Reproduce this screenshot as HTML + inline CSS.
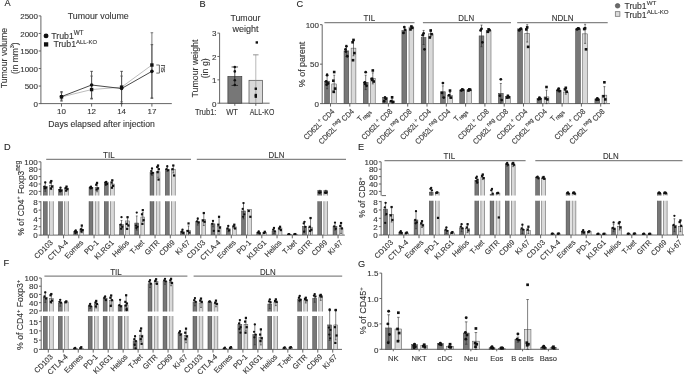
<!DOCTYPE html>
<html><head><meta charset="utf-8"><style>
html,body{margin:0;padding:0;background:#fff;width:685px;height:374px;overflow:hidden}
svg{display:block;will-change:transform}
text{font-family:"Liberation Sans", sans-serif;stroke:#3a3a3a;stroke-width:0.12px}
</style></head><body>
<svg width="685" height="374" viewBox="0 0 685 374">
<rect width="685" height="374" fill="#fff"/>
<text x="4.60" y="5.90" font-size="9.2" text-anchor="start" fill="#222">A</text>
<text x="199.60" y="6.60" font-size="9.2" text-anchor="start" fill="#222">B</text>
<text x="296.60" y="6.60" font-size="9.2" text-anchor="start" fill="#222">C</text>
<text x="3.90" y="149.50" font-size="9.2" text-anchor="start" fill="#222">D</text>
<text x="357.90" y="149.60" font-size="9.2" text-anchor="start" fill="#222">E</text>
<text x="3.60" y="266.40" font-size="9.2" text-anchor="start" fill="#222">F</text>
<text x="357.90" y="266.60" font-size="9.2" text-anchor="start" fill="#222">G</text>
<line x1="40.90" y1="15.90" x2="40.90" y2="104.05" stroke="#555" stroke-width="0.9"/>
<line x1="40.90" y1="103.60" x2="171.80" y2="103.60" stroke="#555" stroke-width="0.9"/>
<line x1="38.70" y1="103.60" x2="40.90" y2="103.60" stroke="#555" stroke-width="0.9"/>
<text x="38.00" y="106.90" font-size="8" text-anchor="end" fill="#333">0</text>
<line x1="38.70" y1="86.06" x2="40.90" y2="86.06" stroke="#555" stroke-width="0.9"/>
<text x="38.00" y="89.36" font-size="8" text-anchor="end" fill="#333">500</text>
<line x1="38.70" y1="68.52" x2="40.90" y2="68.52" stroke="#555" stroke-width="0.9"/>
<text x="38.00" y="71.82" font-size="8" text-anchor="end" fill="#333">1000</text>
<line x1="38.70" y1="50.98" x2="40.90" y2="50.98" stroke="#555" stroke-width="0.9"/>
<text x="38.00" y="54.28" font-size="8" text-anchor="end" fill="#333">1500</text>
<line x1="38.70" y1="33.44" x2="40.90" y2="33.44" stroke="#555" stroke-width="0.9"/>
<text x="38.00" y="36.74" font-size="8" text-anchor="end" fill="#333">2000</text>
<line x1="38.70" y1="15.90" x2="40.90" y2="15.90" stroke="#555" stroke-width="0.9"/>
<text x="38.00" y="19.20" font-size="8" text-anchor="end" fill="#333">2500</text>
<line x1="61.50" y1="103.60" x2="61.50" y2="106.60" stroke="#555" stroke-width="0.9"/>
<text x="61.50" y="114.10" font-size="8" text-anchor="middle" fill="#333">10</text>
<line x1="91.60" y1="103.60" x2="91.60" y2="106.60" stroke="#555" stroke-width="0.9"/>
<text x="91.60" y="114.10" font-size="8" text-anchor="middle" fill="#333">12</text>
<line x1="121.60" y1="103.60" x2="121.60" y2="106.60" stroke="#555" stroke-width="0.9"/>
<text x="121.60" y="114.10" font-size="8" text-anchor="middle" fill="#333">14</text>
<line x1="151.90" y1="103.60" x2="151.90" y2="106.60" stroke="#555" stroke-width="0.9"/>
<text x="151.90" y="114.10" font-size="8" text-anchor="middle" fill="#333">17</text>
<text x="101.60" y="126.70" font-size="9" text-anchor="middle" fill="#333" textLength="106.5" lengthAdjust="spacingAndGlyphs">Days elapsed after injection</text>
<text x="98.20" y="19.00" font-size="9" text-anchor="middle" fill="#333" textLength="61" lengthAdjust="spacingAndGlyphs">Tumour volume</text>
<text x="7.40" y="58.10" font-size="9" text-anchor="middle" fill="#333" transform="rotate(-90 7.40 58.10)" textLength="60.5" lengthAdjust="spacingAndGlyphs">Tumour volume</text>
<text x="0" y="0" font-size="9" text-anchor="middle" fill="#333" transform="translate(17.70 58.20) rotate(-90) scale(0.93 1)">(in mm<tspan dy="-3.6" font-size="6">3</tspan><tspan dy="3.6">)</tspan></text>
<circle cx="46.05" cy="35.90" r="2.45" fill="#111"/>
<text x="51.20" y="38.90" font-size="8.8" text-anchor="start" fill="#333">Trub1<tspan dy="-3.6" font-size="6.3">WT</tspan></text>
<rect x="43.95" y="42.25" width="4.30" height="4.30" fill="#111"/>
<text x="53.40" y="47.40" font-size="8.8" text-anchor="start" fill="#333">Trub1<tspan dy="-3.6" font-size="5.9">ALL-KO</tspan></text>
<polyline points="61.50,96.93 91.60,89.57 121.60,87.11 151.90,65.01" fill="none" stroke="#b5b5b5" stroke-width="0.9"/>
<polyline points="61.50,96.58 91.60,85.01 121.60,88.52 151.90,71.33" fill="none" stroke="#333" stroke-width="0.9"/>
<line x1="61.50" y1="91.67" x2="61.50" y2="100.09" stroke="#333" stroke-width="0.8"/>
<line x1="60.20" y1="91.67" x2="62.80" y2="91.67" stroke="#333" stroke-width="0.8"/>
<line x1="60.20" y1="100.09" x2="62.80" y2="100.09" stroke="#333" stroke-width="0.8"/>
<line x1="91.60" y1="71.33" x2="91.60" y2="98.34" stroke="#333" stroke-width="0.8"/>
<line x1="90.30" y1="71.33" x2="92.90" y2="71.33" stroke="#333" stroke-width="0.8"/>
<line x1="90.30" y1="98.34" x2="92.90" y2="98.34" stroke="#333" stroke-width="0.8"/>
<line x1="121.60" y1="71.33" x2="121.60" y2="103.60" stroke="#333" stroke-width="0.8"/>
<line x1="120.30" y1="71.33" x2="122.90" y2="71.33" stroke="#333" stroke-width="0.8"/>
<line x1="120.30" y1="103.60" x2="122.90" y2="103.60" stroke="#333" stroke-width="0.8"/>
<line x1="151.90" y1="44.67" x2="151.90" y2="97.99" stroke="#333" stroke-width="0.8"/>
<line x1="150.60" y1="44.67" x2="153.20" y2="44.67" stroke="#333" stroke-width="0.8"/>
<line x1="150.60" y1="97.99" x2="153.20" y2="97.99" stroke="#333" stroke-width="0.8"/>
<line x1="61.50" y1="92.73" x2="61.50" y2="101.14" stroke="#555" stroke-width="0.8"/>
<line x1="60.20" y1="92.73" x2="62.80" y2="92.73" stroke="#555" stroke-width="0.8"/>
<line x1="60.20" y1="101.14" x2="62.80" y2="101.14" stroke="#555" stroke-width="0.8"/>
<line x1="91.60" y1="76.06" x2="91.60" y2="99.04" stroke="#555" stroke-width="0.8"/>
<line x1="90.30" y1="76.06" x2="92.90" y2="76.06" stroke="#555" stroke-width="0.8"/>
<line x1="90.30" y1="99.04" x2="92.90" y2="99.04" stroke="#555" stroke-width="0.8"/>
<line x1="121.60" y1="76.06" x2="121.60" y2="101.85" stroke="#555" stroke-width="0.8"/>
<line x1="120.30" y1="76.06" x2="122.90" y2="76.06" stroke="#555" stroke-width="0.8"/>
<line x1="120.30" y1="101.85" x2="122.90" y2="101.85" stroke="#555" stroke-width="0.8"/>
<line x1="151.90" y1="32.74" x2="151.90" y2="98.34" stroke="#555" stroke-width="0.8"/>
<line x1="150.60" y1="32.74" x2="153.20" y2="32.74" stroke="#555" stroke-width="0.8"/>
<line x1="150.60" y1="98.34" x2="153.20" y2="98.34" stroke="#555" stroke-width="0.8"/>
<rect x="59.80" y="95.23" width="3.40" height="3.40" fill="#111"/>
<rect x="89.90" y="87.87" width="3.40" height="3.40" fill="#111"/>
<rect x="119.90" y="85.41" width="3.40" height="3.40" fill="#111"/>
<rect x="150.20" y="63.31" width="3.40" height="3.40" fill="#111"/>
<circle cx="61.50" cy="96.58" r="1.8" fill="#111"/>
<circle cx="91.60" cy="85.01" r="1.8" fill="#111"/>
<circle cx="121.60" cy="88.52" r="1.8" fill="#111"/>
<circle cx="151.90" cy="71.33" r="1.8" fill="#111"/>
<line x1="159.40" y1="65.00" x2="159.40" y2="73.10" stroke="#444" stroke-width="0.8"/>
<line x1="156.30" y1="65.00" x2="159.40" y2="65.00" stroke="#444" stroke-width="0.8"/>
<line x1="156.30" y1="73.10" x2="159.40" y2="73.10" stroke="#444" stroke-width="0.8"/>
<text x="161.00" y="68.60" font-size="7.5" text-anchor="middle" fill="#333" transform="rotate(90 161.00 68.60)">ns</text>
<line x1="219.60" y1="33.10" x2="219.60" y2="103.65" stroke="#555" stroke-width="0.9"/>
<line x1="219.60" y1="103.20" x2="269.60" y2="103.20" stroke="#555" stroke-width="0.9"/>
<line x1="217.40" y1="103.20" x2="219.60" y2="103.20" stroke="#555" stroke-width="0.9"/>
<text x="216.50" y="106.50" font-size="8" text-anchor="end" fill="#333">0</text>
<line x1="217.40" y1="79.83" x2="219.60" y2="79.83" stroke="#555" stroke-width="0.9"/>
<text x="216.50" y="83.13" font-size="8" text-anchor="end" fill="#333">1</text>
<line x1="217.40" y1="56.47" x2="219.60" y2="56.47" stroke="#555" stroke-width="0.9"/>
<text x="216.50" y="59.77" font-size="8" text-anchor="end" fill="#333">2</text>
<line x1="217.40" y1="33.10" x2="219.60" y2="33.10" stroke="#555" stroke-width="0.9"/>
<text x="216.50" y="36.40" font-size="8" text-anchor="end" fill="#333">3</text>
<text x="245.40" y="21.10" font-size="9" text-anchor="middle" fill="#333" textLength="30" lengthAdjust="spacingAndGlyphs">Tumour</text>
<text x="245.40" y="32.40" font-size="9" text-anchor="middle" fill="#333" textLength="26" lengthAdjust="spacingAndGlyphs">weight</text>
<text x="198.40" y="68.50" font-size="9" text-anchor="middle" fill="#333" transform="rotate(-90 198.40 68.50)" textLength="58" lengthAdjust="spacingAndGlyphs">Tumour weight</text>
<text x="208.50" y="68.30" font-size="9" text-anchor="middle" fill="#333" transform="rotate(-90 208.50 68.30)" textLength="20" lengthAdjust="spacingAndGlyphs">(in g)</text>
<rect x="227.90" y="76.56" width="13.90" height="26.64" fill="#777777" stroke="#3d3d3d" stroke-width="0.7"/>
<rect x="249.00" y="80.30" width="13.60" height="22.90" fill="#d9d9d9" stroke="#4d4d4d" stroke-width="0.7"/>
<line x1="234.80" y1="66.98" x2="234.80" y2="85.44" stroke="#222" stroke-width="0.8"/>
<line x1="231.55" y1="66.98" x2="238.05" y2="66.98" stroke="#222" stroke-width="0.8"/>
<line x1="231.55" y1="85.44" x2="238.05" y2="85.44" stroke="#222" stroke-width="0.8"/>
<line x1="253.05" y1="54.83" x2="258.55" y2="54.83" stroke="#666" stroke-width="0.7"/>
<line x1="255.80" y1="54.83" x2="255.80" y2="103.20" stroke="#888" stroke-width="0.6"/>
<circle cx="234.80" cy="66.98" r="1.3" fill="#111"/>
<circle cx="234.80" cy="71.42" r="1.3" fill="#111"/>
<circle cx="234.80" cy="80.30" r="1.3" fill="#111"/>
<circle cx="234.80" cy="84.97" r="1.3" fill="#111"/>
<rect x="255.60" y="41.25" width="2.40" height="2.40" fill="#111"/>
<rect x="254.60" y="87.51" width="2.40" height="2.40" fill="#111"/>
<rect x="254.60" y="93.82" width="2.40" height="2.40" fill="#111"/>
<rect x="254.60" y="95.46" width="2.40" height="2.40" fill="#111"/>
<line x1="234.80" y1="103.20" x2="234.80" y2="105.80" stroke="#555" stroke-width="0.9"/>
<line x1="255.80" y1="103.20" x2="255.80" y2="105.80" stroke="#555" stroke-width="0.9"/>
<text x="195.00" y="114.50" font-size="9" text-anchor="start" fill="#333" textLength="21.4" lengthAdjust="spacingAndGlyphs">Trub1:</text>
<text x="232.10" y="114.50" font-size="9" text-anchor="middle" fill="#333" textLength="11.8" lengthAdjust="spacingAndGlyphs">WT</text>
<text x="262.00" y="114.50" font-size="9" text-anchor="middle" fill="#333" textLength="24.6" lengthAdjust="spacingAndGlyphs">ALL-KO</text>
<line x1="322.20" y1="24.70" x2="322.20" y2="104.05" stroke="#555" stroke-width="0.9"/>
<line x1="322.20" y1="103.60" x2="610.00" y2="103.60" stroke="#555" stroke-width="0.9"/>
<line x1="320.00" y1="103.60" x2="322.20" y2="103.60" stroke="#555" stroke-width="0.9"/>
<text x="319.00" y="106.90" font-size="8" text-anchor="end" fill="#333">0</text>
<line x1="320.00" y1="64.15" x2="322.20" y2="64.15" stroke="#555" stroke-width="0.9"/>
<text x="319.00" y="67.45" font-size="8" text-anchor="end" fill="#333">50</text>
<line x1="320.00" y1="24.70" x2="322.20" y2="24.70" stroke="#555" stroke-width="0.9"/>
<text x="319.00" y="28.00" font-size="8" text-anchor="end" fill="#333">100</text>
<text x="304.60" y="64.40" font-size="9" text-anchor="middle" fill="#333" transform="rotate(-90 304.60 64.40)" textLength="45.5" lengthAdjust="spacingAndGlyphs">% of parent</text>
<line x1="324.40" y1="22.70" x2="414.50" y2="22.70" stroke="#858585" stroke-width="1.2"/>
<text x="369.40" y="20.80" font-size="9" text-anchor="middle" fill="#333" textLength="11.6" lengthAdjust="spacingAndGlyphs">TIL</text>
<line x1="422.90" y1="22.70" x2="511.00" y2="22.70" stroke="#858585" stroke-width="1.2"/>
<text x="466.20" y="20.80" font-size="9" text-anchor="middle" fill="#333" textLength="15.8" lengthAdjust="spacingAndGlyphs">DLN</text>
<line x1="517.20" y1="22.70" x2="607.70" y2="22.70" stroke="#858585" stroke-width="1.2"/>
<text x="562.70" y="20.80" font-size="9" text-anchor="middle" fill="#333" textLength="22.0" lengthAdjust="spacingAndGlyphs">NDLN</text>
<circle cx="617.6" cy="5.8" r="2.3" fill="#6a6a6a" stroke="#444" stroke-width="0.6"/>
<rect x="615.30" y="11.70" width="4.60" height="4.60" fill="#dcdcdc" stroke="#666" stroke-width="0.7"/>
<text x="624.50" y="9.10" font-size="8.6" text-anchor="start" fill="#333">Trub1<tspan dy="-3.8" font-size="6.2">WT</tspan></text>
<text x="624.50" y="17.50" font-size="8.6" text-anchor="start" fill="#333">Trub1<tspan dy="-3.8" font-size="6.2">ALL-KO</tspan></text>
<rect x="324.70" y="81.19" width="4.80" height="22.41" fill="#777777" stroke="#3d3d3d" stroke-width="0.5"/>
<line x1="327.10" y1="73.62" x2="327.10" y2="88.77" stroke="#2a2a2a" stroke-width="0.6"/>
<line x1="326.10" y1="73.62" x2="328.10" y2="73.62" stroke="#2a2a2a" stroke-width="0.6"/>
<line x1="326.10" y1="88.77" x2="328.10" y2="88.77" stroke="#2a2a2a" stroke-width="0.6"/>
<circle cx="327.10" cy="75.20" r="1.4" fill="#111"/>
<circle cx="326.20" cy="81.51" r="1.4" fill="#111"/>
<circle cx="328.00" cy="83.48" r="1.4" fill="#111"/>
<circle cx="326.60" cy="84.66" r="1.4" fill="#111"/>
<rect x="331.80" y="83.95" width="4.80" height="19.65" fill="#d9d9d9" stroke="#4d4d4d" stroke-width="0.5"/>
<line x1="334.20" y1="75.20" x2="334.20" y2="92.71" stroke="#2a2a2a" stroke-width="0.6"/>
<line x1="333.20" y1="75.20" x2="335.20" y2="75.20" stroke="#2a2a2a" stroke-width="0.6"/>
<line x1="333.20" y1="92.71" x2="335.20" y2="92.71" stroke="#2a2a2a" stroke-width="0.6"/>
<rect x="332.90" y="70.74" width="2.60" height="2.60" fill="#111"/>
<rect x="332.00" y="79.42" width="2.60" height="2.60" fill="#111"/>
<rect x="333.80" y="87.31" width="2.60" height="2.60" fill="#111"/>
<rect x="332.40" y="90.47" width="2.60" height="2.60" fill="#111"/>
<line x1="330.50" y1="103.60" x2="330.50" y2="106.60" stroke="#555" stroke-width="0.9"/>
<rect x="344.00" y="50.89" width="4.80" height="52.71" fill="#777777" stroke="#3d3d3d" stroke-width="0.5"/>
<line x1="346.40" y1="45.21" x2="346.40" y2="56.58" stroke="#2a2a2a" stroke-width="0.6"/>
<line x1="345.40" y1="45.21" x2="347.40" y2="45.21" stroke="#2a2a2a" stroke-width="0.6"/>
<line x1="345.40" y1="56.58" x2="347.40" y2="56.58" stroke="#2a2a2a" stroke-width="0.6"/>
<circle cx="346.40" cy="46.32" r="1.4" fill="#111"/>
<circle cx="345.50" cy="49.32" r="1.4" fill="#111"/>
<circle cx="347.30" cy="56.26" r="1.4" fill="#111"/>
<circle cx="345.90" cy="51.53" r="1.4" fill="#111"/>
<rect x="351.10" y="48.13" width="4.80" height="55.47" fill="#d9d9d9" stroke="#4d4d4d" stroke-width="0.5"/>
<line x1="353.50" y1="40.48" x2="353.50" y2="55.79" stroke="#2a2a2a" stroke-width="0.6"/>
<line x1="352.50" y1="40.48" x2="354.50" y2="40.48" stroke="#2a2a2a" stroke-width="0.6"/>
<line x1="352.50" y1="55.79" x2="354.50" y2="55.79" stroke="#2a2a2a" stroke-width="0.6"/>
<rect x="352.20" y="38.63" width="2.60" height="2.60" fill="#111"/>
<rect x="351.30" y="40.99" width="2.60" height="2.60" fill="#111"/>
<rect x="353.10" y="51.80" width="2.60" height="2.60" fill="#111"/>
<rect x="351.70" y="58.91" width="2.60" height="2.60" fill="#111"/>
<line x1="349.80" y1="103.60" x2="349.80" y2="106.60" stroke="#555" stroke-width="0.9"/>
<rect x="363.30" y="82.38" width="4.80" height="21.22" fill="#777777" stroke="#3d3d3d" stroke-width="0.5"/>
<line x1="365.70" y1="75.20" x2="365.70" y2="89.56" stroke="#2a2a2a" stroke-width="0.6"/>
<line x1="364.70" y1="75.20" x2="366.70" y2="75.20" stroke="#2a2a2a" stroke-width="0.6"/>
<line x1="364.70" y1="89.56" x2="366.70" y2="89.56" stroke="#2a2a2a" stroke-width="0.6"/>
<circle cx="365.70" cy="72.20" r="1.4" fill="#111"/>
<circle cx="364.80" cy="82.30" r="1.4" fill="#111"/>
<circle cx="366.60" cy="85.85" r="1.4" fill="#111"/>
<circle cx="365.20" cy="83.88" r="1.4" fill="#111"/>
<rect x="370.40" y="78.35" width="4.80" height="25.25" fill="#d9d9d9" stroke="#4d4d4d" stroke-width="0.5"/>
<line x1="372.80" y1="72.83" x2="372.80" y2="83.88" stroke="#2a2a2a" stroke-width="0.6"/>
<line x1="371.80" y1="72.83" x2="373.80" y2="72.83" stroke="#2a2a2a" stroke-width="0.6"/>
<line x1="371.80" y1="83.88" x2="373.80" y2="83.88" stroke="#2a2a2a" stroke-width="0.6"/>
<rect x="371.50" y="69.16" width="2.60" height="2.60" fill="#111"/>
<rect x="370.60" y="77.45" width="2.60" height="2.60" fill="#111"/>
<rect x="372.40" y="80.21" width="2.60" height="2.60" fill="#111"/>
<rect x="371.00" y="78.63" width="2.60" height="2.60" fill="#111"/>
<line x1="369.10" y1="103.60" x2="369.10" y2="106.60" stroke="#555" stroke-width="0.9"/>
<rect x="382.60" y="97.68" width="4.80" height="5.92" fill="#777777" stroke="#3d3d3d" stroke-width="0.5"/>
<line x1="385.00" y1="96.50" x2="385.00" y2="98.87" stroke="#2a2a2a" stroke-width="0.6"/>
<line x1="384.00" y1="96.50" x2="386.00" y2="96.50" stroke="#2a2a2a" stroke-width="0.6"/>
<line x1="384.00" y1="98.87" x2="386.00" y2="98.87" stroke="#2a2a2a" stroke-width="0.6"/>
<circle cx="385.00" cy="97.60" r="1.4" fill="#111"/>
<circle cx="384.10" cy="101.23" r="1.4" fill="#111"/>
<circle cx="385.90" cy="98.87" r="1.4" fill="#111"/>
<rect x="389.70" y="101.00" width="4.80" height="2.60" fill="#d9d9d9" stroke="#4d4d4d" stroke-width="0.5"/>
<line x1="392.10" y1="98.87" x2="392.10" y2="103.13" stroke="#2a2a2a" stroke-width="0.6"/>
<line x1="391.10" y1="98.87" x2="393.10" y2="98.87" stroke="#2a2a2a" stroke-width="0.6"/>
<line x1="391.10" y1="103.13" x2="393.10" y2="103.13" stroke="#2a2a2a" stroke-width="0.6"/>
<rect x="390.80" y="95.99" width="2.60" height="2.60" fill="#111"/>
<rect x="389.90" y="99.93" width="2.60" height="2.60" fill="#111"/>
<rect x="391.70" y="100.72" width="2.60" height="2.60" fill="#111"/>
<line x1="388.40" y1="103.60" x2="388.40" y2="106.60" stroke="#555" stroke-width="0.9"/>
<rect x="401.90" y="30.46" width="4.80" height="73.14" fill="#777777" stroke="#3d3d3d" stroke-width="0.5"/>
<line x1="404.30" y1="27.86" x2="404.30" y2="33.06" stroke="#2a2a2a" stroke-width="0.6"/>
<line x1="403.30" y1="27.86" x2="405.30" y2="27.86" stroke="#2a2a2a" stroke-width="0.6"/>
<line x1="403.30" y1="33.06" x2="405.30" y2="33.06" stroke="#2a2a2a" stroke-width="0.6"/>
<circle cx="404.30" cy="27.07" r="1.4" fill="#111"/>
<circle cx="403.40" cy="32.91" r="1.4" fill="#111"/>
<circle cx="405.20" cy="29.83" r="1.4" fill="#111"/>
<rect x="409.00" y="27.07" width="4.80" height="76.53" fill="#d9d9d9" stroke="#4d4d4d" stroke-width="0.5"/>
<line x1="411.40" y1="26.28" x2="411.40" y2="27.86" stroke="#2a2a2a" stroke-width="0.6"/>
<line x1="410.40" y1="26.28" x2="412.40" y2="26.28" stroke="#2a2a2a" stroke-width="0.6"/>
<line x1="410.40" y1="27.86" x2="412.40" y2="27.86" stroke="#2a2a2a" stroke-width="0.6"/>
<rect x="410.10" y="25.21" width="2.60" height="2.60" fill="#111"/>
<rect x="409.20" y="28.13" width="2.60" height="2.60" fill="#111"/>
<rect x="411.00" y="26.56" width="2.60" height="2.60" fill="#111"/>
<line x1="407.70" y1="103.60" x2="407.70" y2="106.60" stroke="#555" stroke-width="0.9"/>
<rect x="421.20" y="37.48" width="4.80" height="66.12" fill="#777777" stroke="#3d3d3d" stroke-width="0.5"/>
<line x1="423.60" y1="30.46" x2="423.60" y2="44.50" stroke="#2a2a2a" stroke-width="0.6"/>
<line x1="422.60" y1="30.46" x2="424.60" y2="30.46" stroke="#2a2a2a" stroke-width="0.6"/>
<line x1="422.60" y1="44.50" x2="424.60" y2="44.50" stroke="#2a2a2a" stroke-width="0.6"/>
<circle cx="423.60" cy="33.38" r="1.4" fill="#111"/>
<circle cx="422.70" cy="35.19" r="1.4" fill="#111"/>
<circle cx="424.50" cy="49.32" r="1.4" fill="#111"/>
<rect x="428.30" y="33.85" width="4.80" height="69.75" fill="#d9d9d9" stroke="#4d4d4d" stroke-width="0.5"/>
<line x1="430.70" y1="31.01" x2="430.70" y2="36.69" stroke="#2a2a2a" stroke-width="0.6"/>
<line x1="429.70" y1="31.01" x2="431.70" y2="31.01" stroke="#2a2a2a" stroke-width="0.6"/>
<line x1="429.70" y1="36.69" x2="431.70" y2="36.69" stroke="#2a2a2a" stroke-width="0.6"/>
<rect x="429.40" y="29.16" width="2.60" height="2.60" fill="#111"/>
<rect x="428.50" y="36.18" width="2.60" height="2.60" fill="#111"/>
<rect x="430.30" y="32.87" width="2.60" height="2.60" fill="#111"/>
<line x1="427.00" y1="103.60" x2="427.00" y2="106.60" stroke="#555" stroke-width="0.9"/>
<rect x="440.50" y="91.77" width="4.80" height="11.83" fill="#777777" stroke="#3d3d3d" stroke-width="0.5"/>
<line x1="442.90" y1="85.85" x2="442.90" y2="97.68" stroke="#2a2a2a" stroke-width="0.6"/>
<line x1="441.90" y1="85.85" x2="443.90" y2="85.85" stroke="#2a2a2a" stroke-width="0.6"/>
<line x1="441.90" y1="97.68" x2="443.90" y2="97.68" stroke="#2a2a2a" stroke-width="0.6"/>
<circle cx="442.90" cy="83.09" r="1.4" fill="#111"/>
<circle cx="442.00" cy="92.95" r="1.4" fill="#111"/>
<circle cx="443.80" cy="97.60" r="1.4" fill="#111"/>
<rect x="447.60" y="95.32" width="4.80" height="8.28" fill="#d9d9d9" stroke="#4d4d4d" stroke-width="0.5"/>
<line x1="450.00" y1="92.55" x2="450.00" y2="98.08" stroke="#2a2a2a" stroke-width="0.6"/>
<line x1="449.00" y1="92.55" x2="451.00" y2="92.55" stroke="#2a2a2a" stroke-width="0.6"/>
<line x1="449.00" y1="98.08" x2="451.00" y2="98.08" stroke="#2a2a2a" stroke-width="0.6"/>
<rect x="448.70" y="89.28" width="2.60" height="2.60" fill="#111"/>
<rect x="447.80" y="94.02" width="2.60" height="2.60" fill="#111"/>
<rect x="449.60" y="96.30" width="2.60" height="2.60" fill="#111"/>
<line x1="446.30" y1="103.60" x2="446.30" y2="106.60" stroke="#555" stroke-width="0.9"/>
<rect x="459.80" y="89.87" width="4.80" height="13.73" fill="#777777" stroke="#3d3d3d" stroke-width="0.5"/>
<line x1="462.20" y1="89.00" x2="462.20" y2="90.74" stroke="#2a2a2a" stroke-width="0.6"/>
<line x1="461.20" y1="89.00" x2="463.20" y2="89.00" stroke="#2a2a2a" stroke-width="0.6"/>
<line x1="461.20" y1="90.74" x2="463.20" y2="90.74" stroke="#2a2a2a" stroke-width="0.6"/>
<circle cx="462.20" cy="89.40" r="1.4" fill="#111"/>
<circle cx="461.30" cy="90.58" r="1.4" fill="#111"/>
<circle cx="463.10" cy="89.79" r="1.4" fill="#111"/>
<rect x="466.90" y="89.87" width="4.80" height="13.73" fill="#d9d9d9" stroke="#4d4d4d" stroke-width="0.5"/>
<line x1="469.30" y1="89.00" x2="469.30" y2="90.74" stroke="#2a2a2a" stroke-width="0.6"/>
<line x1="468.30" y1="89.00" x2="470.30" y2="89.00" stroke="#2a2a2a" stroke-width="0.6"/>
<line x1="468.30" y1="90.74" x2="470.30" y2="90.74" stroke="#2a2a2a" stroke-width="0.6"/>
<rect x="468.00" y="88.10" width="2.60" height="2.60" fill="#111"/>
<rect x="467.10" y="89.28" width="2.60" height="2.60" fill="#111"/>
<rect x="468.90" y="88.49" width="2.60" height="2.60" fill="#111"/>
<line x1="465.60" y1="103.60" x2="465.60" y2="106.60" stroke="#555" stroke-width="0.9"/>
<rect x="479.10" y="35.90" width="4.80" height="67.70" fill="#777777" stroke="#3d3d3d" stroke-width="0.5"/>
<line x1="481.50" y1="25.09" x2="481.50" y2="46.71" stroke="#2a2a2a" stroke-width="0.6"/>
<line x1="480.50" y1="25.09" x2="482.50" y2="25.09" stroke="#2a2a2a" stroke-width="0.6"/>
<line x1="480.50" y1="46.71" x2="482.50" y2="46.71" stroke="#2a2a2a" stroke-width="0.6"/>
<circle cx="481.50" cy="28.80" r="1.4" fill="#111"/>
<circle cx="480.60" cy="30.46" r="1.4" fill="#111"/>
<circle cx="482.40" cy="42.29" r="1.4" fill="#111"/>
<rect x="486.20" y="30.46" width="4.80" height="73.14" fill="#d9d9d9" stroke="#4d4d4d" stroke-width="0.5"/>
<line x1="488.60" y1="28.65" x2="488.60" y2="32.27" stroke="#2a2a2a" stroke-width="0.6"/>
<line x1="487.60" y1="28.65" x2="489.60" y2="28.65" stroke="#2a2a2a" stroke-width="0.6"/>
<line x1="487.60" y1="32.27" x2="489.60" y2="32.27" stroke="#2a2a2a" stroke-width="0.6"/>
<rect x="487.30" y="28.13" width="2.60" height="2.60" fill="#111"/>
<rect x="486.40" y="30.50" width="2.60" height="2.60" fill="#111"/>
<rect x="488.20" y="28.92" width="2.60" height="2.60" fill="#111"/>
<line x1="484.90" y1="103.60" x2="484.90" y2="106.60" stroke="#555" stroke-width="0.9"/>
<rect x="498.40" y="93.34" width="4.80" height="10.26" fill="#777777" stroke="#3d3d3d" stroke-width="0.5"/>
<line x1="500.80" y1="83.48" x2="500.80" y2="103.21" stroke="#2a2a2a" stroke-width="0.6"/>
<line x1="499.80" y1="83.48" x2="501.80" y2="83.48" stroke="#2a2a2a" stroke-width="0.6"/>
<line x1="499.80" y1="103.21" x2="501.80" y2="103.21" stroke="#2a2a2a" stroke-width="0.6"/>
<circle cx="500.80" cy="79.30" r="1.4" fill="#111"/>
<circle cx="499.90" cy="95.71" r="1.4" fill="#111"/>
<circle cx="501.70" cy="100.05" r="1.4" fill="#111"/>
<rect x="505.50" y="96.50" width="4.80" height="7.10" fill="#d9d9d9" stroke="#4d4d4d" stroke-width="0.5"/>
<line x1="507.90" y1="94.92" x2="507.90" y2="98.08" stroke="#2a2a2a" stroke-width="0.6"/>
<line x1="506.90" y1="94.92" x2="508.90" y2="94.92" stroke="#2a2a2a" stroke-width="0.6"/>
<line x1="506.90" y1="98.08" x2="508.90" y2="98.08" stroke="#2a2a2a" stroke-width="0.6"/>
<rect x="506.60" y="94.73" width="2.60" height="2.60" fill="#111"/>
<rect x="505.70" y="96.30" width="2.60" height="2.60" fill="#111"/>
<rect x="507.50" y="95.99" width="2.60" height="2.60" fill="#111"/>
<line x1="504.20" y1="103.60" x2="504.20" y2="106.60" stroke="#555" stroke-width="0.9"/>
<rect x="517.70" y="28.88" width="4.80" height="74.72" fill="#777777" stroke="#3d3d3d" stroke-width="0.5"/>
<line x1="520.10" y1="28.25" x2="520.10" y2="29.51" stroke="#2a2a2a" stroke-width="0.6"/>
<line x1="519.10" y1="28.25" x2="521.10" y2="28.25" stroke="#2a2a2a" stroke-width="0.6"/>
<line x1="519.10" y1="29.51" x2="521.10" y2="29.51" stroke="#2a2a2a" stroke-width="0.6"/>
<circle cx="520.10" cy="29.43" r="1.4" fill="#111"/>
<circle cx="519.20" cy="30.46" r="1.4" fill="#111"/>
<circle cx="521.00" cy="28.65" r="1.4" fill="#111"/>
<rect x="524.80" y="33.38" width="4.80" height="70.22" fill="#d9d9d9" stroke="#4d4d4d" stroke-width="0.5"/>
<line x1="527.20" y1="24.70" x2="527.20" y2="42.06" stroke="#2a2a2a" stroke-width="0.6"/>
<line x1="526.20" y1="24.70" x2="528.20" y2="24.70" stroke="#2a2a2a" stroke-width="0.6"/>
<line x1="526.20" y1="42.06" x2="528.20" y2="42.06" stroke="#2a2a2a" stroke-width="0.6"/>
<rect x="525.90" y="26.08" width="2.60" height="2.60" fill="#111"/>
<rect x="525.00" y="28.13" width="2.60" height="2.60" fill="#111"/>
<rect x="526.80" y="45.57" width="2.60" height="2.60" fill="#111"/>
<line x1="523.50" y1="103.60" x2="523.50" y2="106.60" stroke="#555" stroke-width="0.9"/>
<rect x="537.00" y="98.71" width="4.80" height="4.89" fill="#777777" stroke="#3d3d3d" stroke-width="0.5"/>
<line x1="539.40" y1="97.68" x2="539.40" y2="99.73" stroke="#2a2a2a" stroke-width="0.6"/>
<line x1="538.40" y1="97.68" x2="540.40" y2="97.68" stroke="#2a2a2a" stroke-width="0.6"/>
<line x1="538.40" y1="99.73" x2="540.40" y2="99.73" stroke="#2a2a2a" stroke-width="0.6"/>
<circle cx="539.40" cy="97.60" r="1.4" fill="#111"/>
<circle cx="538.50" cy="99.34" r="1.4" fill="#111"/>
<circle cx="540.30" cy="98.87" r="1.4" fill="#111"/>
<rect x="544.10" y="96.89" width="4.80" height="6.71" fill="#d9d9d9" stroke="#4d4d4d" stroke-width="0.5"/>
<line x1="546.50" y1="90.19" x2="546.50" y2="103.60" stroke="#2a2a2a" stroke-width="0.6"/>
<line x1="545.50" y1="90.19" x2="547.50" y2="90.19" stroke="#2a2a2a" stroke-width="0.6"/>
<line x1="545.50" y1="103.60" x2="547.50" y2="103.60" stroke="#2a2a2a" stroke-width="0.6"/>
<rect x="545.20" y="85.73" width="2.60" height="2.60" fill="#111"/>
<rect x="544.30" y="97.17" width="2.60" height="2.60" fill="#111"/>
<rect x="546.10" y="98.12" width="2.60" height="2.60" fill="#111"/>
<line x1="542.80" y1="103.60" x2="542.80" y2="106.60" stroke="#555" stroke-width="0.9"/>
<rect x="556.30" y="90.50" width="4.80" height="13.10" fill="#777777" stroke="#3d3d3d" stroke-width="0.5"/>
<line x1="558.70" y1="89.00" x2="558.70" y2="92.00" stroke="#2a2a2a" stroke-width="0.6"/>
<line x1="557.70" y1="89.00" x2="559.70" y2="89.00" stroke="#2a2a2a" stroke-width="0.6"/>
<line x1="557.70" y1="92.00" x2="559.70" y2="92.00" stroke="#2a2a2a" stroke-width="0.6"/>
<circle cx="558.70" cy="88.61" r="1.4" fill="#111"/>
<circle cx="557.80" cy="90.19" r="1.4" fill="#111"/>
<circle cx="559.60" cy="90.98" r="1.4" fill="#111"/>
<rect x="563.40" y="92.00" width="4.80" height="11.60" fill="#d9d9d9" stroke="#4d4d4d" stroke-width="0.5"/>
<line x1="565.80" y1="89.79" x2="565.80" y2="94.21" stroke="#2a2a2a" stroke-width="0.6"/>
<line x1="564.80" y1="89.79" x2="566.80" y2="89.79" stroke="#2a2a2a" stroke-width="0.6"/>
<line x1="564.80" y1="94.21" x2="566.80" y2="94.21" stroke="#2a2a2a" stroke-width="0.6"/>
<rect x="564.50" y="86.52" width="2.60" height="2.60" fill="#111"/>
<rect x="563.60" y="88.10" width="2.60" height="2.60" fill="#111"/>
<rect x="565.40" y="90.47" width="2.60" height="2.60" fill="#111"/>
<line x1="562.10" y1="103.60" x2="562.10" y2="106.60" stroke="#555" stroke-width="0.9"/>
<rect x="575.60" y="28.88" width="4.80" height="74.72" fill="#777777" stroke="#3d3d3d" stroke-width="0.5"/>
<line x1="578.00" y1="28.25" x2="578.00" y2="29.51" stroke="#2a2a2a" stroke-width="0.6"/>
<line x1="577.00" y1="28.25" x2="579.00" y2="28.25" stroke="#2a2a2a" stroke-width="0.6"/>
<line x1="577.00" y1="29.51" x2="579.00" y2="29.51" stroke="#2a2a2a" stroke-width="0.6"/>
<circle cx="578.00" cy="28.33" r="1.4" fill="#111"/>
<circle cx="577.10" cy="29.43" r="1.4" fill="#111"/>
<circle cx="578.90" cy="28.65" r="1.4" fill="#111"/>
<rect x="582.70" y="33.85" width="4.80" height="69.75" fill="#d9d9d9" stroke="#4d4d4d" stroke-width="0.5"/>
<line x1="585.10" y1="24.31" x2="585.10" y2="43.40" stroke="#2a2a2a" stroke-width="0.6"/>
<line x1="584.10" y1="24.31" x2="586.10" y2="24.31" stroke="#2a2a2a" stroke-width="0.6"/>
<line x1="584.10" y1="43.40" x2="586.10" y2="43.40" stroke="#2a2a2a" stroke-width="0.6"/>
<rect x="583.80" y="27.03" width="2.60" height="2.60" fill="#111"/>
<rect x="582.90" y="27.74" width="2.60" height="2.60" fill="#111"/>
<rect x="584.70" y="48.02" width="2.60" height="2.60" fill="#111"/>
<line x1="581.40" y1="103.60" x2="581.40" y2="106.60" stroke="#555" stroke-width="0.9"/>
<rect x="594.90" y="98.87" width="4.80" height="4.73" fill="#777777" stroke="#3d3d3d" stroke-width="0.5"/>
<line x1="597.30" y1="98.08" x2="597.30" y2="99.66" stroke="#2a2a2a" stroke-width="0.6"/>
<line x1="596.30" y1="98.08" x2="598.30" y2="98.08" stroke="#2a2a2a" stroke-width="0.6"/>
<line x1="596.30" y1="99.66" x2="598.30" y2="99.66" stroke="#2a2a2a" stroke-width="0.6"/>
<circle cx="597.30" cy="98.47" r="1.4" fill="#111"/>
<circle cx="596.40" cy="99.81" r="1.4" fill="#111"/>
<circle cx="598.20" cy="99.66" r="1.4" fill="#111"/>
<rect x="602.00" y="95.16" width="4.80" height="8.44" fill="#d9d9d9" stroke="#4d4d4d" stroke-width="0.5"/>
<line x1="604.40" y1="86.64" x2="604.40" y2="103.60" stroke="#2a2a2a" stroke-width="0.6"/>
<line x1="603.40" y1="86.64" x2="605.40" y2="86.64" stroke="#2a2a2a" stroke-width="0.6"/>
<line x1="603.40" y1="103.60" x2="605.40" y2="103.60" stroke="#2a2a2a" stroke-width="0.6"/>
<rect x="603.10" y="81.00" width="2.60" height="2.60" fill="#111"/>
<rect x="602.20" y="94.96" width="2.60" height="2.60" fill="#111"/>
<rect x="604.00" y="98.12" width="2.60" height="2.60" fill="#111"/>
<line x1="600.70" y1="103.60" x2="600.70" y2="106.60" stroke="#555" stroke-width="0.9"/>
<text x="0" y="0" font-size="7.7" text-anchor="end" fill="#333" transform="translate(335.10 111.90) rotate(-45) scale(0.9 1)">CD62L<tspan dy="-3.4" font-size="5.5">+</tspan><tspan dy="3.4"> CD4</tspan></text>
<text x="0" y="0" font-size="7.7" text-anchor="end" fill="#333" transform="translate(354.40 111.90) rotate(-45) scale(0.9 1)">CD62L<tspan dy="-3.6" font-size="6">neg</tspan><tspan dy="3.6"> CD4</tspan></text>
<text x="0" y="0" font-size="7.7" text-anchor="end" fill="#333" transform="translate(370.90 111.50) rotate(-45) scale(0.9 1)">T<tspan dy="1.8" font-size="6.1">regs</tspan></text>
<text x="0" y="0" font-size="7.7" text-anchor="end" fill="#333" transform="translate(393.00 111.90) rotate(-45) scale(0.9 1)">CD62L<tspan dy="-3.4" font-size="5.5">+</tspan><tspan dy="3.4"> CD8</tspan></text>
<text x="0" y="0" font-size="7.7" text-anchor="end" fill="#333" transform="translate(412.30 111.90) rotate(-45) scale(0.9 1)">CD62L<tspan dy="-3.6" font-size="6">neg</tspan><tspan dy="3.6"> CD8</tspan></text>
<text x="0" y="0" font-size="7.7" text-anchor="end" fill="#333" transform="translate(431.60 111.90) rotate(-45) scale(0.9 1)">CD62L<tspan dy="-3.4" font-size="5.5">+</tspan><tspan dy="3.4"> CD4</tspan></text>
<text x="0" y="0" font-size="7.7" text-anchor="end" fill="#333" transform="translate(450.90 111.90) rotate(-45) scale(0.9 1)">CD62L<tspan dy="-3.6" font-size="6">neg</tspan><tspan dy="3.6"> CD4</tspan></text>
<text x="0" y="0" font-size="7.7" text-anchor="end" fill="#333" transform="translate(467.40 111.50) rotate(-45) scale(0.9 1)">T<tspan dy="1.8" font-size="6.1">regs</tspan></text>
<text x="0" y="0" font-size="7.7" text-anchor="end" fill="#333" transform="translate(489.50 111.90) rotate(-45) scale(0.9 1)">CD62L<tspan dy="-3.4" font-size="5.5">+</tspan><tspan dy="3.4"> CD8</tspan></text>
<text x="0" y="0" font-size="7.7" text-anchor="end" fill="#333" transform="translate(508.80 111.90) rotate(-45) scale(0.9 1)">CD62L<tspan dy="-3.6" font-size="6">neg</tspan><tspan dy="3.6"> CD8</tspan></text>
<text x="0" y="0" font-size="7.7" text-anchor="end" fill="#333" transform="translate(528.10 111.90) rotate(-45) scale(0.9 1)">CD62L<tspan dy="-3.4" font-size="5.5">+</tspan><tspan dy="3.4"> CD4</tspan></text>
<text x="0" y="0" font-size="7.7" text-anchor="end" fill="#333" transform="translate(547.40 111.90) rotate(-45) scale(0.9 1)">CD62L<tspan dy="-3.6" font-size="6">neg</tspan><tspan dy="3.6"> CD4</tspan></text>
<text x="0" y="0" font-size="7.7" text-anchor="end" fill="#333" transform="translate(563.90 111.50) rotate(-45) scale(0.9 1)">T<tspan dy="1.8" font-size="6.1">regs</tspan></text>
<text x="0" y="0" font-size="7.7" text-anchor="end" fill="#333" transform="translate(586.00 111.90) rotate(-45) scale(0.9 1)">CD62L<tspan dy="-3.4" font-size="5.5">+</tspan><tspan dy="3.4"> CD8</tspan></text>
<text x="0" y="0" font-size="7.7" text-anchor="end" fill="#333" transform="translate(605.30 111.90) rotate(-45) scale(0.9 1)">CD62L<tspan dy="-3.6" font-size="6">neg</tspan><tspan dy="3.6"> CD8</tspan></text>
<line x1="40.90" y1="161.80" x2="40.90" y2="195.50" stroke="#555" stroke-width="0.9"/>
<line x1="40.90" y1="201.20" x2="40.90" y2="235.55" stroke="#555" stroke-width="0.9"/>
<line x1="40.90" y1="235.10" x2="344.80" y2="235.10" stroke="#555" stroke-width="0.9"/>
<line x1="38.70" y1="191.40" x2="40.90" y2="191.40" stroke="#555" stroke-width="0.9"/>
<text x="37.60" y="194.60" font-size="8" text-anchor="end" fill="#333">20</text>
<line x1="38.70" y1="184.00" x2="40.90" y2="184.00" stroke="#555" stroke-width="0.9"/>
<text x="37.60" y="187.20" font-size="8" text-anchor="end" fill="#333">40</text>
<line x1="38.70" y1="176.60" x2="40.90" y2="176.60" stroke="#555" stroke-width="0.9"/>
<text x="37.60" y="179.80" font-size="8" text-anchor="end" fill="#333">60</text>
<line x1="38.70" y1="169.20" x2="40.90" y2="169.20" stroke="#555" stroke-width="0.9"/>
<text x="37.60" y="172.40" font-size="8" text-anchor="end" fill="#333">80</text>
<line x1="38.70" y1="161.80" x2="40.90" y2="161.80" stroke="#555" stroke-width="0.9"/>
<text x="37.60" y="165.00" font-size="8" text-anchor="end" fill="#333">100</text>
<line x1="38.70" y1="235.10" x2="40.90" y2="235.10" stroke="#555" stroke-width="0.9"/>
<text x="37.60" y="238.30" font-size="8" text-anchor="end" fill="#333">0</text>
<line x1="38.70" y1="226.78" x2="40.90" y2="226.78" stroke="#555" stroke-width="0.9"/>
<text x="37.60" y="229.97" font-size="8" text-anchor="end" fill="#333">2</text>
<line x1="38.70" y1="218.45" x2="40.90" y2="218.45" stroke="#555" stroke-width="0.9"/>
<text x="37.60" y="221.65" font-size="8" text-anchor="end" fill="#333">4</text>
<line x1="38.70" y1="210.12" x2="40.90" y2="210.12" stroke="#555" stroke-width="0.9"/>
<text x="37.60" y="213.32" font-size="8" text-anchor="end" fill="#333">6</text>
<line x1="38.70" y1="201.80" x2="40.90" y2="201.80" stroke="#555" stroke-width="0.9"/>
<text x="37.60" y="205.00" font-size="8" text-anchor="end" fill="#333">8</text>
<line x1="48.30" y1="235.10" x2="48.30" y2="238.30" stroke="#555" stroke-width="0.9"/>
<line x1="63.55" y1="235.10" x2="63.55" y2="238.30" stroke="#555" stroke-width="0.9"/>
<line x1="78.80" y1="235.10" x2="78.80" y2="238.30" stroke="#555" stroke-width="0.9"/>
<line x1="94.05" y1="235.10" x2="94.05" y2="238.30" stroke="#555" stroke-width="0.9"/>
<line x1="109.30" y1="235.10" x2="109.30" y2="238.30" stroke="#555" stroke-width="0.9"/>
<line x1="124.55" y1="235.10" x2="124.55" y2="238.30" stroke="#555" stroke-width="0.9"/>
<line x1="139.80" y1="235.10" x2="139.80" y2="238.30" stroke="#555" stroke-width="0.9"/>
<line x1="155.05" y1="235.10" x2="155.05" y2="238.30" stroke="#555" stroke-width="0.9"/>
<line x1="170.30" y1="235.10" x2="170.30" y2="238.30" stroke="#555" stroke-width="0.9"/>
<line x1="185.55" y1="235.10" x2="185.55" y2="238.30" stroke="#555" stroke-width="0.9"/>
<line x1="200.80" y1="235.10" x2="200.80" y2="238.30" stroke="#555" stroke-width="0.9"/>
<line x1="216.05" y1="235.10" x2="216.05" y2="238.30" stroke="#555" stroke-width="0.9"/>
<line x1="231.30" y1="235.10" x2="231.30" y2="238.30" stroke="#555" stroke-width="0.9"/>
<line x1="246.55" y1="235.10" x2="246.55" y2="238.30" stroke="#555" stroke-width="0.9"/>
<line x1="261.80" y1="235.10" x2="261.80" y2="238.30" stroke="#555" stroke-width="0.9"/>
<line x1="277.05" y1="235.10" x2="277.05" y2="238.30" stroke="#555" stroke-width="0.9"/>
<line x1="292.30" y1="235.10" x2="292.30" y2="238.30" stroke="#555" stroke-width="0.9"/>
<line x1="307.55" y1="235.10" x2="307.55" y2="238.30" stroke="#555" stroke-width="0.9"/>
<line x1="322.80" y1="235.10" x2="322.80" y2="238.30" stroke="#555" stroke-width="0.9"/>
<line x1="338.05" y1="235.10" x2="338.05" y2="238.30" stroke="#555" stroke-width="0.9"/>
<clipPath id="cp1"><rect x="41.40" y="131.40" width="400.00" height="64.10"/></clipPath>
<g clip-path="url(#cp1)">
<rect x="43.30" y="186.70" width="3.90" height="13.80" fill="#777777" stroke="#3d3d3d" stroke-width="0.5"/>
<rect x="49.40" y="185.30" width="3.80" height="15.20" fill="#d9d9d9" stroke="#4d4d4d" stroke-width="0.5"/>
<rect x="58.55" y="189.55" width="3.90" height="10.95" fill="#777777" stroke="#3d3d3d" stroke-width="0.5"/>
<rect x="64.65" y="188.07" width="3.80" height="12.43" fill="#d9d9d9" stroke="#4d4d4d" stroke-width="0.5"/>
<rect x="73.80" y="198.49" width="3.90" height="2.01" fill="#777777" stroke="#3d3d3d" stroke-width="0.5"/>
<rect x="79.90" y="198.32" width="3.80" height="2.18" fill="#d9d9d9" stroke="#4d4d4d" stroke-width="0.5"/>
<rect x="89.05" y="187.33" width="3.90" height="13.17" fill="#777777" stroke="#3d3d3d" stroke-width="0.5"/>
<rect x="95.15" y="187.33" width="3.80" height="13.17" fill="#d9d9d9" stroke="#4d4d4d" stroke-width="0.5"/>
<rect x="104.30" y="182.71" width="3.90" height="17.79" fill="#777777" stroke="#3d3d3d" stroke-width="0.5"/>
<rect x="110.40" y="184.00" width="3.80" height="16.50" fill="#d9d9d9" stroke="#4d4d4d" stroke-width="0.5"/>
<rect x="119.55" y="197.88" width="3.90" height="2.62" fill="#777777" stroke="#3d3d3d" stroke-width="0.5"/>
<rect x="125.65" y="197.54" width="3.80" height="2.96" fill="#d9d9d9" stroke="#4d4d4d" stroke-width="0.5"/>
<rect x="134.80" y="197.73" width="3.90" height="2.77" fill="#777777" stroke="#3d3d3d" stroke-width="0.5"/>
<rect x="140.90" y="197.19" width="3.80" height="3.31" fill="#d9d9d9" stroke="#4d4d4d" stroke-width="0.5"/>
<rect x="150.05" y="172.31" width="3.90" height="28.19" fill="#777777" stroke="#3d3d3d" stroke-width="0.5"/>
<rect x="156.15" y="171.79" width="3.80" height="28.71" fill="#d9d9d9" stroke="#4d4d4d" stroke-width="0.5"/>
<rect x="165.30" y="169.20" width="3.90" height="31.30" fill="#777777" stroke="#3d3d3d" stroke-width="0.5"/>
<rect x="171.40" y="169.20" width="3.80" height="31.30" fill="#d9d9d9" stroke="#4d4d4d" stroke-width="0.5"/>
<rect x="180.55" y="198.50" width="3.90" height="2.00" fill="#777777" stroke="#3d3d3d" stroke-width="0.5"/>
<rect x="186.65" y="198.37" width="3.80" height="2.13" fill="#d9d9d9" stroke="#4d4d4d" stroke-width="0.5"/>
<rect x="195.80" y="197.58" width="3.90" height="2.92" fill="#777777" stroke="#3d3d3d" stroke-width="0.5"/>
<rect x="201.90" y="197.39" width="3.80" height="3.11" fill="#d9d9d9" stroke="#4d4d4d" stroke-width="0.5"/>
<rect x="211.05" y="197.80" width="3.90" height="2.70" fill="#777777" stroke="#3d3d3d" stroke-width="0.5"/>
<rect x="217.15" y="198.02" width="3.80" height="2.48" fill="#d9d9d9" stroke="#4d4d4d" stroke-width="0.5"/>
<rect x="226.30" y="198.25" width="3.90" height="2.25" fill="#777777" stroke="#3d3d3d" stroke-width="0.5"/>
<rect x="232.40" y="198.06" width="3.80" height="2.44" fill="#d9d9d9" stroke="#4d4d4d" stroke-width="0.5"/>
<rect x="241.55" y="196.65" width="3.90" height="3.85" fill="#777777" stroke="#3d3d3d" stroke-width="0.5"/>
<rect x="247.65" y="196.51" width="3.80" height="3.99" fill="#d9d9d9" stroke="#4d4d4d" stroke-width="0.5"/>
<rect x="256.80" y="198.54" width="3.90" height="1.96" fill="#777777" stroke="#3d3d3d" stroke-width="0.5"/>
<rect x="262.90" y="198.58" width="3.80" height="1.92" fill="#d9d9d9" stroke="#4d4d4d" stroke-width="0.5"/>
<rect x="272.05" y="198.43" width="3.90" height="2.07" fill="#777777" stroke="#3d3d3d" stroke-width="0.5"/>
<rect x="278.15" y="198.17" width="3.80" height="2.33" fill="#d9d9d9" stroke="#4d4d4d" stroke-width="0.5"/>
<rect x="287.30" y="198.73" width="3.90" height="1.77" fill="#777777" stroke="#3d3d3d" stroke-width="0.5"/>
<rect x="293.40" y="198.73" width="3.80" height="1.77" fill="#d9d9d9" stroke="#4d4d4d" stroke-width="0.5"/>
<rect x="302.55" y="198.02" width="3.90" height="2.48" fill="#777777" stroke="#3d3d3d" stroke-width="0.5"/>
<rect x="308.65" y="198.10" width="3.80" height="2.40" fill="#d9d9d9" stroke="#4d4d4d" stroke-width="0.5"/>
<rect x="317.80" y="190.40" width="3.90" height="10.10" fill="#777777" stroke="#3d3d3d" stroke-width="0.5"/>
<rect x="323.90" y="190.40" width="3.80" height="10.10" fill="#d9d9d9" stroke="#4d4d4d" stroke-width="0.5"/>
<rect x="333.05" y="198.02" width="3.90" height="2.48" fill="#777777" stroke="#3d3d3d" stroke-width="0.5"/>
<rect x="339.15" y="198.17" width="3.80" height="2.33" fill="#d9d9d9" stroke="#4d4d4d" stroke-width="0.5"/>
<line x1="45.25" y1="182.15" x2="45.25" y2="191.25" stroke="#2a2a2a" stroke-width="0.6"/>
<line x1="44.35" y1="182.15" x2="46.15" y2="182.15" stroke="#2a2a2a" stroke-width="0.6"/>
<line x1="44.35" y1="191.25" x2="46.15" y2="191.25" stroke="#2a2a2a" stroke-width="0.6"/>
<circle cx="45.25" cy="182.52" r="1.15" fill="#111"/>
<circle cx="44.45" cy="186.59" r="1.15" fill="#111"/>
<circle cx="46.05" cy="187.70" r="1.15" fill="#111"/>
<circle cx="44.85" cy="188.44" r="1.15" fill="#111"/>
<line x1="51.30" y1="181.04" x2="51.30" y2="189.55" stroke="#2a2a2a" stroke-width="0.6"/>
<line x1="50.40" y1="181.04" x2="52.20" y2="181.04" stroke="#2a2a2a" stroke-width="0.6"/>
<line x1="50.40" y1="189.55" x2="52.20" y2="189.55" stroke="#2a2a2a" stroke-width="0.6"/>
<rect x="50.20" y="179.94" width="2.20" height="2.20" fill="#111"/>
<rect x="49.40" y="181.42" width="2.20" height="2.20" fill="#111"/>
<rect x="51.00" y="185.49" width="2.20" height="2.20" fill="#111"/>
<rect x="49.80" y="187.34" width="2.20" height="2.20" fill="#111"/>
<line x1="60.50" y1="187.70" x2="60.50" y2="191.40" stroke="#2a2a2a" stroke-width="0.6"/>
<line x1="59.60" y1="187.70" x2="61.40" y2="187.70" stroke="#2a2a2a" stroke-width="0.6"/>
<line x1="59.60" y1="191.40" x2="61.40" y2="191.40" stroke="#2a2a2a" stroke-width="0.6"/>
<circle cx="60.50" cy="187.70" r="1.15" fill="#111"/>
<circle cx="59.70" cy="189.92" r="1.15" fill="#111"/>
<circle cx="61.30" cy="190.66" r="1.15" fill="#111"/>
<circle cx="60.10" cy="191.40" r="1.15" fill="#111"/>
<line x1="66.55" y1="186.59" x2="66.55" y2="189.55" stroke="#2a2a2a" stroke-width="0.6"/>
<line x1="65.65" y1="186.59" x2="67.45" y2="186.59" stroke="#2a2a2a" stroke-width="0.6"/>
<line x1="65.65" y1="189.55" x2="67.45" y2="189.55" stroke="#2a2a2a" stroke-width="0.6"/>
<rect x="65.45" y="185.49" width="2.20" height="2.20" fill="#111"/>
<rect x="64.65" y="186.97" width="2.20" height="2.20" fill="#111"/>
<rect x="66.25" y="188.08" width="2.20" height="2.20" fill="#111"/>
<rect x="65.05" y="189.56" width="2.20" height="2.20" fill="#111"/>
<line x1="91.00" y1="186.59" x2="91.00" y2="188.07" stroke="#2a2a2a" stroke-width="0.6"/>
<line x1="90.10" y1="186.59" x2="91.90" y2="186.59" stroke="#2a2a2a" stroke-width="0.6"/>
<line x1="90.10" y1="188.07" x2="91.90" y2="188.07" stroke="#2a2a2a" stroke-width="0.6"/>
<circle cx="91.00" cy="186.59" r="1.15" fill="#111"/>
<circle cx="90.20" cy="187.33" r="1.15" fill="#111"/>
<circle cx="91.80" cy="188.07" r="1.15" fill="#111"/>
<circle cx="90.60" cy="188.44" r="1.15" fill="#111"/>
<line x1="97.05" y1="182.89" x2="97.05" y2="191.77" stroke="#2a2a2a" stroke-width="0.6"/>
<line x1="96.15" y1="182.89" x2="97.95" y2="182.89" stroke="#2a2a2a" stroke-width="0.6"/>
<line x1="96.15" y1="191.77" x2="97.95" y2="191.77" stroke="#2a2a2a" stroke-width="0.6"/>
<rect x="95.95" y="181.79" width="2.20" height="2.20" fill="#111"/>
<rect x="95.15" y="183.64" width="2.20" height="2.20" fill="#111"/>
<rect x="96.75" y="187.34" width="2.20" height="2.20" fill="#111"/>
<rect x="95.55" y="188.45" width="2.20" height="2.20" fill="#111"/>
<line x1="106.25" y1="181.78" x2="106.25" y2="183.63" stroke="#2a2a2a" stroke-width="0.6"/>
<line x1="105.35" y1="181.78" x2="107.15" y2="181.78" stroke="#2a2a2a" stroke-width="0.6"/>
<line x1="105.35" y1="183.63" x2="107.15" y2="183.63" stroke="#2a2a2a" stroke-width="0.6"/>
<circle cx="106.25" cy="181.78" r="1.15" fill="#111"/>
<circle cx="105.45" cy="182.52" r="1.15" fill="#111"/>
<circle cx="107.05" cy="184.00" r="1.15" fill="#111"/>
<circle cx="105.85" cy="184.74" r="1.15" fill="#111"/>
<line x1="112.30" y1="180.30" x2="112.30" y2="187.70" stroke="#2a2a2a" stroke-width="0.6"/>
<line x1="111.40" y1="180.30" x2="113.20" y2="180.30" stroke="#2a2a2a" stroke-width="0.6"/>
<line x1="111.40" y1="187.70" x2="113.20" y2="187.70" stroke="#2a2a2a" stroke-width="0.6"/>
<rect x="111.20" y="179.20" width="2.20" height="2.20" fill="#111"/>
<rect x="110.40" y="181.42" width="2.20" height="2.20" fill="#111"/>
<rect x="112.00" y="184.75" width="2.20" height="2.20" fill="#111"/>
<rect x="110.80" y="186.60" width="2.20" height="2.20" fill="#111"/>
<line x1="152.00" y1="169.20" x2="152.00" y2="175.42" stroke="#2a2a2a" stroke-width="0.6"/>
<line x1="151.10" y1="169.20" x2="152.90" y2="169.20" stroke="#2a2a2a" stroke-width="0.6"/>
<line x1="151.10" y1="175.42" x2="152.90" y2="175.42" stroke="#2a2a2a" stroke-width="0.6"/>
<circle cx="152.00" cy="168.46" r="1.15" fill="#111"/>
<circle cx="151.20" cy="171.05" r="1.15" fill="#111"/>
<circle cx="152.80" cy="172.90" r="1.15" fill="#111"/>
<circle cx="151.60" cy="173.64" r="1.15" fill="#111"/>
<line x1="158.05" y1="166.24" x2="158.05" y2="177.34" stroke="#2a2a2a" stroke-width="0.6"/>
<line x1="157.15" y1="166.24" x2="158.95" y2="166.24" stroke="#2a2a2a" stroke-width="0.6"/>
<line x1="157.15" y1="177.34" x2="158.95" y2="177.34" stroke="#2a2a2a" stroke-width="0.6"/>
<rect x="156.95" y="164.40" width="2.20" height="2.20" fill="#111"/>
<rect x="156.15" y="165.88" width="2.20" height="2.20" fill="#111"/>
<rect x="157.75" y="168.10" width="2.20" height="2.20" fill="#111"/>
<rect x="156.55" y="171.06" width="2.20" height="2.20" fill="#111"/>
<rect x="157.45" y="178.46" width="2.20" height="2.20" fill="#111"/>
<line x1="167.25" y1="166.98" x2="167.25" y2="171.42" stroke="#2a2a2a" stroke-width="0.6"/>
<line x1="166.35" y1="166.98" x2="168.15" y2="166.98" stroke="#2a2a2a" stroke-width="0.6"/>
<line x1="166.35" y1="171.42" x2="168.15" y2="171.42" stroke="#2a2a2a" stroke-width="0.6"/>
<circle cx="167.25" cy="166.24" r="1.15" fill="#111"/>
<circle cx="166.45" cy="169.20" r="1.15" fill="#111"/>
<circle cx="168.05" cy="170.31" r="1.15" fill="#111"/>
<line x1="173.30" y1="165.50" x2="173.30" y2="172.90" stroke="#2a2a2a" stroke-width="0.6"/>
<line x1="172.40" y1="165.50" x2="174.20" y2="165.50" stroke="#2a2a2a" stroke-width="0.6"/>
<line x1="172.40" y1="172.90" x2="174.20" y2="172.90" stroke="#2a2a2a" stroke-width="0.6"/>
<rect x="172.20" y="164.40" width="2.20" height="2.20" fill="#111"/>
<rect x="171.40" y="168.10" width="2.20" height="2.20" fill="#111"/>
<rect x="173.00" y="174.39" width="2.20" height="2.20" fill="#111"/>
<line x1="319.75" y1="190.29" x2="319.75" y2="190.51" stroke="#2a2a2a" stroke-width="0.6"/>
<line x1="318.85" y1="190.29" x2="320.65" y2="190.29" stroke="#2a2a2a" stroke-width="0.6"/>
<line x1="318.85" y1="190.51" x2="320.65" y2="190.51" stroke="#2a2a2a" stroke-width="0.6"/>
<circle cx="319.75" cy="192.77" r="1.15" fill="#111"/>
<circle cx="318.95" cy="192.51" r="1.15" fill="#111"/>
<circle cx="320.55" cy="192.33" r="1.15" fill="#111"/>
<line x1="325.80" y1="190.29" x2="325.80" y2="190.51" stroke="#2a2a2a" stroke-width="0.6"/>
<line x1="324.90" y1="190.29" x2="326.70" y2="190.29" stroke="#2a2a2a" stroke-width="0.6"/>
<line x1="324.90" y1="190.51" x2="326.70" y2="190.51" stroke="#2a2a2a" stroke-width="0.6"/>
<rect x="324.70" y="191.67" width="2.20" height="2.20" fill="#111"/>
<rect x="323.90" y="191.41" width="2.20" height="2.20" fill="#111"/>
<rect x="325.50" y="191.23" width="2.20" height="2.20" fill="#111"/>
</g>
<clipPath id="cp2"><rect x="41.40" y="201.20" width="400.00" height="33.90"/></clipPath>
<g clip-path="url(#cp2)">
<rect x="43.30" y="98.99" width="3.90" height="136.11" fill="#777777" stroke="#3d3d3d" stroke-width="0.5"/>
<rect x="49.40" y="83.17" width="3.80" height="151.93" fill="#d9d9d9" stroke="#4d4d4d" stroke-width="0.5"/>
<rect x="58.55" y="131.04" width="3.90" height="104.06" fill="#777777" stroke="#3d3d3d" stroke-width="0.5"/>
<rect x="64.65" y="114.39" width="3.80" height="120.71" fill="#d9d9d9" stroke="#4d4d4d" stroke-width="0.5"/>
<rect x="73.80" y="231.56" width="3.90" height="3.54" fill="#777777" stroke="#3d3d3d" stroke-width="0.5"/>
<rect x="79.90" y="229.69" width="3.80" height="5.41" fill="#d9d9d9" stroke="#4d4d4d" stroke-width="0.5"/>
<rect x="89.05" y="106.06" width="3.90" height="129.04" fill="#777777" stroke="#3d3d3d" stroke-width="0.5"/>
<rect x="95.15" y="106.06" width="3.80" height="129.04" fill="#d9d9d9" stroke="#4d4d4d" stroke-width="0.5"/>
<rect x="104.30" y="54.03" width="3.90" height="181.07" fill="#777777" stroke="#3d3d3d" stroke-width="0.5"/>
<rect x="110.40" y="68.60" width="3.80" height="166.50" fill="#d9d9d9" stroke="#4d4d4d" stroke-width="0.5"/>
<rect x="119.55" y="224.69" width="3.90" height="10.41" fill="#777777" stroke="#3d3d3d" stroke-width="0.5"/>
<rect x="125.65" y="220.95" width="3.80" height="14.15" fill="#d9d9d9" stroke="#4d4d4d" stroke-width="0.5"/>
<rect x="134.80" y="223.03" width="3.90" height="12.07" fill="#777777" stroke="#3d3d3d" stroke-width="0.5"/>
<rect x="140.90" y="216.99" width="3.80" height="18.11" fill="#d9d9d9" stroke="#4d4d4d" stroke-width="0.5"/>
<rect x="150.05" y="-62.93" width="3.90" height="298.03" fill="#777777" stroke="#3d3d3d" stroke-width="0.5"/>
<rect x="156.15" y="-68.76" width="3.80" height="303.86" fill="#d9d9d9" stroke="#4d4d4d" stroke-width="0.5"/>
<rect x="165.30" y="-97.90" width="3.90" height="333.00" fill="#777777" stroke="#3d3d3d" stroke-width="0.5"/>
<rect x="171.40" y="-97.90" width="3.80" height="333.00" fill="#d9d9d9" stroke="#4d4d4d" stroke-width="0.5"/>
<rect x="180.55" y="231.77" width="3.90" height="3.33" fill="#777777" stroke="#3d3d3d" stroke-width="0.5"/>
<rect x="186.65" y="230.31" width="3.80" height="4.79" fill="#d9d9d9" stroke="#4d4d4d" stroke-width="0.5"/>
<rect x="195.80" y="221.36" width="3.90" height="13.74" fill="#777777" stroke="#3d3d3d" stroke-width="0.5"/>
<rect x="201.90" y="219.28" width="3.80" height="15.82" fill="#d9d9d9" stroke="#4d4d4d" stroke-width="0.5"/>
<rect x="211.05" y="223.86" width="3.90" height="11.24" fill="#777777" stroke="#3d3d3d" stroke-width="0.5"/>
<rect x="217.15" y="226.36" width="3.80" height="8.74" fill="#d9d9d9" stroke="#4d4d4d" stroke-width="0.5"/>
<rect x="226.30" y="228.86" width="3.90" height="6.24" fill="#777777" stroke="#3d3d3d" stroke-width="0.5"/>
<rect x="232.40" y="226.78" width="3.80" height="8.32" fill="#d9d9d9" stroke="#4d4d4d" stroke-width="0.5"/>
<rect x="241.55" y="210.96" width="3.90" height="24.14" fill="#777777" stroke="#3d3d3d" stroke-width="0.5"/>
<rect x="247.65" y="209.29" width="3.80" height="25.81" fill="#d9d9d9" stroke="#4d4d4d" stroke-width="0.5"/>
<rect x="256.80" y="232.19" width="3.90" height="2.91" fill="#777777" stroke="#3d3d3d" stroke-width="0.5"/>
<rect x="262.90" y="232.60" width="3.80" height="2.50" fill="#d9d9d9" stroke="#4d4d4d" stroke-width="0.5"/>
<rect x="272.05" y="230.94" width="3.90" height="4.16" fill="#777777" stroke="#3d3d3d" stroke-width="0.5"/>
<rect x="278.15" y="228.02" width="3.80" height="7.08" fill="#d9d9d9" stroke="#4d4d4d" stroke-width="0.5"/>
<rect x="287.30" y="234.27" width="3.90" height="0.83" fill="#777777" stroke="#3d3d3d" stroke-width="0.5"/>
<rect x="293.40" y="234.27" width="3.80" height="0.83" fill="#d9d9d9" stroke="#4d4d4d" stroke-width="0.5"/>
<rect x="302.55" y="226.36" width="3.90" height="8.74" fill="#777777" stroke="#3d3d3d" stroke-width="0.5"/>
<rect x="308.65" y="227.19" width="3.80" height="7.91" fill="#d9d9d9" stroke="#4d4d4d" stroke-width="0.5"/>
<rect x="317.80" y="140.61" width="3.90" height="94.49" fill="#777777" stroke="#3d3d3d" stroke-width="0.5"/>
<rect x="323.90" y="140.61" width="3.80" height="94.49" fill="#d9d9d9" stroke="#4d4d4d" stroke-width="0.5"/>
<rect x="333.05" y="226.36" width="3.90" height="8.74" fill="#777777" stroke="#3d3d3d" stroke-width="0.5"/>
<rect x="339.15" y="228.02" width="3.80" height="7.08" fill="#d9d9d9" stroke="#4d4d4d" stroke-width="0.5"/>
</g>
<clipPath id="cp3"><rect x="41.40" y="201.20" width="400.00" height="33.90"/></clipPath>
<g clip-path="url(#cp3)">
<line x1="75.75" y1="230.52" x2="75.75" y2="232.60" stroke="#2a2a2a" stroke-width="0.6"/>
<line x1="74.85" y1="230.52" x2="76.65" y2="230.52" stroke="#2a2a2a" stroke-width="0.6"/>
<line x1="74.85" y1="232.60" x2="76.65" y2="232.60" stroke="#2a2a2a" stroke-width="0.6"/>
<circle cx="75.75" cy="230.52" r="1.15" fill="#111"/>
<circle cx="74.95" cy="231.35" r="1.15" fill="#111"/>
<circle cx="76.55" cy="232.19" r="1.15" fill="#111"/>
<circle cx="75.35" cy="233.02" r="1.15" fill="#111"/>
<line x1="81.80" y1="226.78" x2="81.80" y2="232.60" stroke="#2a2a2a" stroke-width="0.6"/>
<line x1="80.90" y1="226.78" x2="82.70" y2="226.78" stroke="#2a2a2a" stroke-width="0.6"/>
<line x1="80.90" y1="232.60" x2="82.70" y2="232.60" stroke="#2a2a2a" stroke-width="0.6"/>
<rect x="80.70" y="224.43" width="2.20" height="2.20" fill="#111"/>
<rect x="79.90" y="228.17" width="2.20" height="2.20" fill="#111"/>
<rect x="81.50" y="229.00" width="2.20" height="2.20" fill="#111"/>
<rect x="80.30" y="230.25" width="2.20" height="2.20" fill="#111"/>
<line x1="121.50" y1="220.53" x2="121.50" y2="228.86" stroke="#2a2a2a" stroke-width="0.6"/>
<line x1="120.60" y1="220.53" x2="122.40" y2="220.53" stroke="#2a2a2a" stroke-width="0.6"/>
<line x1="120.60" y1="228.86" x2="122.40" y2="228.86" stroke="#2a2a2a" stroke-width="0.6"/>
<circle cx="121.50" cy="217.20" r="1.15" fill="#111"/>
<circle cx="120.70" cy="224.69" r="1.15" fill="#111"/>
<circle cx="122.30" cy="226.78" r="1.15" fill="#111"/>
<circle cx="121.10" cy="228.86" r="1.15" fill="#111"/>
<line x1="127.55" y1="217.20" x2="127.55" y2="224.69" stroke="#2a2a2a" stroke-width="0.6"/>
<line x1="126.65" y1="217.20" x2="128.45" y2="217.20" stroke="#2a2a2a" stroke-width="0.6"/>
<line x1="126.65" y1="224.69" x2="128.45" y2="224.69" stroke="#2a2a2a" stroke-width="0.6"/>
<rect x="126.45" y="216.10" width="2.20" height="2.20" fill="#111"/>
<rect x="125.65" y="222.76" width="2.20" height="2.20" fill="#111"/>
<rect x="127.25" y="224.43" width="2.20" height="2.20" fill="#111"/>
<rect x="126.05" y="227.76" width="2.20" height="2.20" fill="#111"/>
<line x1="136.75" y1="215.95" x2="136.75" y2="230.10" stroke="#2a2a2a" stroke-width="0.6"/>
<line x1="135.85" y1="215.95" x2="137.65" y2="215.95" stroke="#2a2a2a" stroke-width="0.6"/>
<line x1="135.85" y1="230.10" x2="137.65" y2="230.10" stroke="#2a2a2a" stroke-width="0.6"/>
<circle cx="136.75" cy="212.62" r="1.15" fill="#111"/>
<circle cx="135.95" cy="225.53" r="1.15" fill="#111"/>
<circle cx="137.55" cy="226.78" r="1.15" fill="#111"/>
<circle cx="136.35" cy="228.02" r="1.15" fill="#111"/>
<line x1="142.80" y1="212.62" x2="142.80" y2="221.36" stroke="#2a2a2a" stroke-width="0.6"/>
<line x1="141.90" y1="212.62" x2="143.70" y2="212.62" stroke="#2a2a2a" stroke-width="0.6"/>
<line x1="141.90" y1="221.36" x2="143.70" y2="221.36" stroke="#2a2a2a" stroke-width="0.6"/>
<rect x="141.70" y="209.03" width="2.20" height="2.20" fill="#111"/>
<rect x="140.90" y="213.19" width="2.20" height="2.20" fill="#111"/>
<rect x="142.50" y="219.02" width="2.20" height="2.20" fill="#111"/>
<rect x="141.30" y="222.76" width="2.20" height="2.20" fill="#111"/>
<line x1="182.50" y1="230.10" x2="182.50" y2="233.44" stroke="#2a2a2a" stroke-width="0.6"/>
<line x1="181.60" y1="230.10" x2="183.40" y2="230.10" stroke="#2a2a2a" stroke-width="0.6"/>
<line x1="181.60" y1="233.44" x2="183.40" y2="233.44" stroke="#2a2a2a" stroke-width="0.6"/>
<circle cx="182.50" cy="229.69" r="1.15" fill="#111"/>
<circle cx="181.70" cy="231.77" r="1.15" fill="#111"/>
<circle cx="183.30" cy="233.02" r="1.15" fill="#111"/>
<line x1="188.55" y1="225.94" x2="188.55" y2="234.68" stroke="#2a2a2a" stroke-width="0.6"/>
<line x1="187.65" y1="225.94" x2="189.45" y2="225.94" stroke="#2a2a2a" stroke-width="0.6"/>
<line x1="187.65" y1="234.68" x2="189.45" y2="234.68" stroke="#2a2a2a" stroke-width="0.6"/>
<rect x="187.45" y="222.34" width="2.20" height="2.20" fill="#111"/>
<rect x="186.65" y="229.84" width="2.20" height="2.20" fill="#111"/>
<rect x="188.25" y="231.50" width="2.20" height="2.20" fill="#111"/>
<line x1="197.75" y1="217.62" x2="197.75" y2="225.11" stroke="#2a2a2a" stroke-width="0.6"/>
<line x1="196.85" y1="217.62" x2="198.65" y2="217.62" stroke="#2a2a2a" stroke-width="0.6"/>
<line x1="196.85" y1="225.11" x2="198.65" y2="225.11" stroke="#2a2a2a" stroke-width="0.6"/>
<circle cx="197.75" cy="218.87" r="1.15" fill="#111"/>
<circle cx="196.95" cy="221.36" r="1.15" fill="#111"/>
<circle cx="198.55" cy="222.61" r="1.15" fill="#111"/>
<line x1="203.80" y1="213.04" x2="203.80" y2="225.53" stroke="#2a2a2a" stroke-width="0.6"/>
<line x1="202.90" y1="213.04" x2="204.70" y2="213.04" stroke="#2a2a2a" stroke-width="0.6"/>
<line x1="202.90" y1="225.53" x2="204.70" y2="225.53" stroke="#2a2a2a" stroke-width="0.6"/>
<rect x="202.70" y="211.94" width="2.20" height="2.20" fill="#111"/>
<rect x="201.90" y="219.43" width="2.20" height="2.20" fill="#111"/>
<rect x="203.50" y="220.68" width="2.20" height="2.20" fill="#111"/>
<line x1="213.00" y1="220.95" x2="213.00" y2="226.78" stroke="#2a2a2a" stroke-width="0.6"/>
<line x1="212.10" y1="220.95" x2="213.90" y2="220.95" stroke="#2a2a2a" stroke-width="0.6"/>
<line x1="212.10" y1="226.78" x2="213.90" y2="226.78" stroke="#2a2a2a" stroke-width="0.6"/>
<circle cx="213.00" cy="220.95" r="1.15" fill="#111"/>
<circle cx="212.20" cy="223.86" r="1.15" fill="#111"/>
<circle cx="213.80" cy="230.94" r="1.15" fill="#111"/>
<line x1="219.05" y1="216.78" x2="219.05" y2="235.10" stroke="#2a2a2a" stroke-width="0.6"/>
<line x1="218.15" y1="216.78" x2="219.95" y2="216.78" stroke="#2a2a2a" stroke-width="0.6"/>
<line x1="218.15" y1="235.10" x2="219.95" y2="235.10" stroke="#2a2a2a" stroke-width="0.6"/>
<rect x="217.95" y="215.69" width="2.20" height="2.20" fill="#111"/>
<rect x="217.15" y="223.59" width="2.20" height="2.20" fill="#111"/>
<rect x="218.75" y="226.51" width="2.20" height="2.20" fill="#111"/>
<rect x="217.55" y="229.84" width="2.20" height="2.20" fill="#111"/>
<line x1="228.25" y1="225.94" x2="228.25" y2="231.77" stroke="#2a2a2a" stroke-width="0.6"/>
<line x1="227.35" y1="225.94" x2="229.15" y2="225.94" stroke="#2a2a2a" stroke-width="0.6"/>
<line x1="227.35" y1="231.77" x2="229.15" y2="231.77" stroke="#2a2a2a" stroke-width="0.6"/>
<circle cx="228.25" cy="225.94" r="1.15" fill="#111"/>
<circle cx="227.45" cy="228.44" r="1.15" fill="#111"/>
<circle cx="229.05" cy="230.52" r="1.15" fill="#111"/>
<line x1="234.30" y1="225.11" x2="234.30" y2="228.44" stroke="#2a2a2a" stroke-width="0.6"/>
<line x1="233.40" y1="225.11" x2="235.20" y2="225.11" stroke="#2a2a2a" stroke-width="0.6"/>
<line x1="233.40" y1="228.44" x2="235.20" y2="228.44" stroke="#2a2a2a" stroke-width="0.6"/>
<rect x="233.20" y="223.59" width="2.20" height="2.20" fill="#111"/>
<rect x="232.40" y="225.26" width="2.20" height="2.20" fill="#111"/>
<rect x="234.00" y="227.34" width="2.20" height="2.20" fill="#111"/>
<line x1="243.50" y1="203.05" x2="243.50" y2="218.87" stroke="#2a2a2a" stroke-width="0.6"/>
<line x1="242.60" y1="203.05" x2="244.40" y2="203.05" stroke="#2a2a2a" stroke-width="0.6"/>
<line x1="242.60" y1="218.87" x2="244.40" y2="218.87" stroke="#2a2a2a" stroke-width="0.6"/>
<circle cx="243.50" cy="203.05" r="1.15" fill="#111"/>
<circle cx="242.70" cy="208.88" r="1.15" fill="#111"/>
<circle cx="244.30" cy="214.29" r="1.15" fill="#111"/>
<circle cx="243.10" cy="216.78" r="1.15" fill="#111"/>
<rect x="247.65" y="209.86" width="2.20" height="2.20" fill="#111"/>
<rect x="249.25" y="215.69" width="2.20" height="2.20" fill="#111"/>
<line x1="258.75" y1="231.35" x2="258.75" y2="233.02" stroke="#2a2a2a" stroke-width="0.6"/>
<line x1="257.85" y1="231.35" x2="259.65" y2="231.35" stroke="#2a2a2a" stroke-width="0.6"/>
<line x1="257.85" y1="233.02" x2="259.65" y2="233.02" stroke="#2a2a2a" stroke-width="0.6"/>
<circle cx="258.75" cy="231.35" r="1.15" fill="#111"/>
<circle cx="257.95" cy="232.60" r="1.15" fill="#111"/>
<circle cx="259.55" cy="233.44" r="1.15" fill="#111"/>
<line x1="264.80" y1="231.77" x2="264.80" y2="233.44" stroke="#2a2a2a" stroke-width="0.6"/>
<line x1="263.90" y1="231.77" x2="265.70" y2="231.77" stroke="#2a2a2a" stroke-width="0.6"/>
<line x1="263.90" y1="233.44" x2="265.70" y2="233.44" stroke="#2a2a2a" stroke-width="0.6"/>
<rect x="263.70" y="230.67" width="2.20" height="2.20" fill="#111"/>
<rect x="262.90" y="231.92" width="2.20" height="2.20" fill="#111"/>
<line x1="274.00" y1="228.02" x2="274.00" y2="233.85" stroke="#2a2a2a" stroke-width="0.6"/>
<line x1="273.10" y1="228.02" x2="274.90" y2="228.02" stroke="#2a2a2a" stroke-width="0.6"/>
<line x1="273.10" y1="233.85" x2="274.90" y2="233.85" stroke="#2a2a2a" stroke-width="0.6"/>
<circle cx="274.00" cy="228.02" r="1.15" fill="#111"/>
<circle cx="273.20" cy="229.69" r="1.15" fill="#111"/>
<circle cx="274.80" cy="231.35" r="1.15" fill="#111"/>
<line x1="280.05" y1="226.78" x2="280.05" y2="229.27" stroke="#2a2a2a" stroke-width="0.6"/>
<line x1="279.15" y1="226.78" x2="280.95" y2="226.78" stroke="#2a2a2a" stroke-width="0.6"/>
<line x1="279.15" y1="229.27" x2="280.95" y2="229.27" stroke="#2a2a2a" stroke-width="0.6"/>
<rect x="278.95" y="225.68" width="2.20" height="2.20" fill="#111"/>
<rect x="278.15" y="227.34" width="2.20" height="2.20" fill="#111"/>
<rect x="279.75" y="229.00" width="2.20" height="2.20" fill="#111"/>
<circle cx="289.25" cy="234.06" r="1.15" fill="#111"/>
<circle cx="288.45" cy="234.27" r="1.15" fill="#111"/>
<rect x="294.20" y="232.96" width="2.20" height="2.20" fill="#111"/>
<rect x="293.40" y="233.17" width="2.20" height="2.20" fill="#111"/>
<line x1="304.50" y1="221.78" x2="304.50" y2="230.94" stroke="#2a2a2a" stroke-width="0.6"/>
<line x1="303.60" y1="221.78" x2="305.40" y2="221.78" stroke="#2a2a2a" stroke-width="0.6"/>
<line x1="303.60" y1="230.94" x2="305.40" y2="230.94" stroke="#2a2a2a" stroke-width="0.6"/>
<circle cx="304.50" cy="221.78" r="1.15" fill="#111"/>
<circle cx="303.70" cy="223.44" r="1.15" fill="#111"/>
<circle cx="305.30" cy="226.78" r="1.15" fill="#111"/>
<circle cx="304.10" cy="231.77" r="1.15" fill="#111"/>
<line x1="310.55" y1="218.03" x2="310.55" y2="235.10" stroke="#2a2a2a" stroke-width="0.6"/>
<line x1="309.65" y1="218.03" x2="311.45" y2="218.03" stroke="#2a2a2a" stroke-width="0.6"/>
<line x1="309.65" y1="235.10" x2="311.45" y2="235.10" stroke="#2a2a2a" stroke-width="0.6"/>
<rect x="309.45" y="216.93" width="2.20" height="2.20" fill="#111"/>
<rect x="308.65" y="225.68" width="2.20" height="2.20" fill="#111"/>
<rect x="310.25" y="228.59" width="2.20" height="2.20" fill="#111"/>
<rect x="309.05" y="229.84" width="2.20" height="2.20" fill="#111"/>
<line x1="335.00" y1="222.61" x2="335.00" y2="230.10" stroke="#2a2a2a" stroke-width="0.6"/>
<line x1="334.10" y1="222.61" x2="335.90" y2="222.61" stroke="#2a2a2a" stroke-width="0.6"/>
<line x1="334.10" y1="230.10" x2="335.90" y2="230.10" stroke="#2a2a2a" stroke-width="0.6"/>
<circle cx="335.00" cy="222.61" r="1.15" fill="#111"/>
<circle cx="334.20" cy="226.36" r="1.15" fill="#111"/>
<circle cx="335.80" cy="228.86" r="1.15" fill="#111"/>
<line x1="341.05" y1="222.61" x2="341.05" y2="233.44" stroke="#2a2a2a" stroke-width="0.6"/>
<line x1="340.15" y1="222.61" x2="341.95" y2="222.61" stroke="#2a2a2a" stroke-width="0.6"/>
<line x1="340.15" y1="233.44" x2="341.95" y2="233.44" stroke="#2a2a2a" stroke-width="0.6"/>
<rect x="339.95" y="221.93" width="2.20" height="2.20" fill="#111"/>
<rect x="339.15" y="224.84" width="2.20" height="2.20" fill="#111"/>
<rect x="340.75" y="227.34" width="2.20" height="2.20" fill="#111"/>
</g>
<line x1="46.20" y1="159.30" x2="191.00" y2="159.30" stroke="#858585" stroke-width="1.2"/>
<text x="108.80" y="158.00" font-size="9" text-anchor="middle" fill="#333" textLength="11.6" lengthAdjust="spacingAndGlyphs">TIL</text>
<line x1="196.80" y1="159.30" x2="346.00" y2="159.30" stroke="#858585" stroke-width="1.2"/>
<text x="276.50" y="158.00" font-size="9" text-anchor="middle" fill="#333" textLength="15.8" lengthAdjust="spacingAndGlyphs">DLN</text>
<text x="0" y="0" font-size="7.6" text-anchor="end" fill="#333" transform="translate(53.30 243.10) rotate(-45) scale(0.96 1)">CD103</text>
<text x="0" y="0" font-size="7.6" text-anchor="end" fill="#333" transform="translate(68.55 243.10) rotate(-45) scale(0.96 1)">CTLA-4</text>
<text x="0" y="0" font-size="7.6" text-anchor="end" fill="#333" transform="translate(83.80 243.10) rotate(-45) scale(0.96 1)">Eomes</text>
<text x="0" y="0" font-size="7.6" text-anchor="end" fill="#333" transform="translate(99.05 243.10) rotate(-45) scale(0.96 1)">PD-1</text>
<text x="0" y="0" font-size="7.6" text-anchor="end" fill="#333" transform="translate(114.30 243.10) rotate(-45) scale(0.96 1)">KLRG1</text>
<text x="0" y="0" font-size="7.6" text-anchor="end" fill="#333" transform="translate(129.55 243.10) rotate(-45) scale(0.96 1)">Helios</text>
<text x="0" y="0" font-size="7.6" text-anchor="end" fill="#333" transform="translate(144.80 243.10) rotate(-45) scale(0.96 1)">T-bet</text>
<text x="0" y="0" font-size="7.6" text-anchor="end" fill="#333" transform="translate(160.05 243.10) rotate(-45) scale(0.96 1)">GITR</text>
<text x="0" y="0" font-size="7.6" text-anchor="end" fill="#333" transform="translate(175.30 243.10) rotate(-45) scale(0.96 1)">CD69</text>
<text x="0" y="0" font-size="7.6" text-anchor="end" fill="#333" transform="translate(190.55 243.10) rotate(-45) scale(0.96 1)">Ki-67</text>
<text x="0" y="0" font-size="7.6" text-anchor="end" fill="#333" transform="translate(205.80 243.10) rotate(-45) scale(0.96 1)">CD103</text>
<text x="0" y="0" font-size="7.6" text-anchor="end" fill="#333" transform="translate(221.05 243.10) rotate(-45) scale(0.96 1)">CTLA-4</text>
<text x="0" y="0" font-size="7.6" text-anchor="end" fill="#333" transform="translate(236.30 243.10) rotate(-45) scale(0.96 1)">Eomes</text>
<text x="0" y="0" font-size="7.6" text-anchor="end" fill="#333" transform="translate(251.55 243.10) rotate(-45) scale(0.96 1)">PD-1</text>
<text x="0" y="0" font-size="7.6" text-anchor="end" fill="#333" transform="translate(266.80 243.10) rotate(-45) scale(0.96 1)">KLRG1</text>
<text x="0" y="0" font-size="7.6" text-anchor="end" fill="#333" transform="translate(282.05 243.10) rotate(-45) scale(0.96 1)">Helios</text>
<text x="0" y="0" font-size="7.6" text-anchor="end" fill="#333" transform="translate(297.30 243.10) rotate(-45) scale(0.96 1)">T-bet</text>
<text x="0" y="0" font-size="7.6" text-anchor="end" fill="#333" transform="translate(312.55 243.10) rotate(-45) scale(0.96 1)">GITR</text>
<text x="0" y="0" font-size="7.6" text-anchor="end" fill="#333" transform="translate(327.80 243.10) rotate(-45) scale(0.96 1)">CD69</text>
<text x="0" y="0" font-size="7.6" text-anchor="end" fill="#333" transform="translate(343.05 243.10) rotate(-45) scale(0.96 1)">Ki-67</text>
<text x="0" y="0" font-size="9" text-anchor="middle" fill="#333" transform="translate(23.60 198.10) rotate(-90) scale(0.93 1)">% of CD4<tspan dy="-3.6" font-size="6">+</tspan><tspan dy="3.6"> Foxp3</tspan><tspan dy="-3.8" font-size="6.4">neg</tspan></text>
<line x1="381.10" y1="161.80" x2="381.10" y2="195.50" stroke="#555" stroke-width="0.9"/>
<line x1="381.10" y1="200.80" x2="381.10" y2="235.45" stroke="#555" stroke-width="0.9"/>
<line x1="381.10" y1="235.00" x2="684.00" y2="235.00" stroke="#555" stroke-width="0.9"/>
<line x1="378.90" y1="191.40" x2="381.10" y2="191.40" stroke="#555" stroke-width="0.9"/>
<text x="377.80" y="194.60" font-size="8" text-anchor="end" fill="#333">20</text>
<line x1="378.90" y1="184.00" x2="381.10" y2="184.00" stroke="#555" stroke-width="0.9"/>
<text x="377.80" y="187.20" font-size="8" text-anchor="end" fill="#333">40</text>
<line x1="378.90" y1="176.60" x2="381.10" y2="176.60" stroke="#555" stroke-width="0.9"/>
<text x="377.80" y="179.80" font-size="8" text-anchor="end" fill="#333">60</text>
<line x1="378.90" y1="169.20" x2="381.10" y2="169.20" stroke="#555" stroke-width="0.9"/>
<text x="377.80" y="172.40" font-size="8" text-anchor="end" fill="#333">80</text>
<line x1="378.90" y1="161.80" x2="381.10" y2="161.80" stroke="#555" stroke-width="0.9"/>
<text x="377.80" y="165.00" font-size="8" text-anchor="end" fill="#333">100</text>
<line x1="378.90" y1="235.00" x2="381.10" y2="235.00" stroke="#555" stroke-width="0.9"/>
<text x="377.80" y="238.20" font-size="8" text-anchor="end" fill="#333">0</text>
<line x1="378.90" y1="226.65" x2="381.10" y2="226.65" stroke="#555" stroke-width="0.9"/>
<text x="377.80" y="229.85" font-size="8" text-anchor="end" fill="#333">2</text>
<line x1="378.90" y1="218.30" x2="381.10" y2="218.30" stroke="#555" stroke-width="0.9"/>
<text x="377.80" y="221.50" font-size="8" text-anchor="end" fill="#333">4</text>
<line x1="378.90" y1="209.95" x2="381.10" y2="209.95" stroke="#555" stroke-width="0.9"/>
<text x="377.80" y="213.15" font-size="8" text-anchor="end" fill="#333">6</text>
<line x1="378.90" y1="201.60" x2="381.10" y2="201.60" stroke="#555" stroke-width="0.9"/>
<text x="377.80" y="204.80" font-size="8" text-anchor="end" fill="#333">8</text>
<line x1="388.60" y1="235.00" x2="388.60" y2="238.20" stroke="#555" stroke-width="0.9"/>
<line x1="403.80" y1="235.00" x2="403.80" y2="238.20" stroke="#555" stroke-width="0.9"/>
<line x1="419.00" y1="235.00" x2="419.00" y2="238.20" stroke="#555" stroke-width="0.9"/>
<line x1="434.20" y1="235.00" x2="434.20" y2="238.20" stroke="#555" stroke-width="0.9"/>
<line x1="449.40" y1="235.00" x2="449.40" y2="238.20" stroke="#555" stroke-width="0.9"/>
<line x1="464.60" y1="235.00" x2="464.60" y2="238.20" stroke="#555" stroke-width="0.9"/>
<line x1="479.80" y1="235.00" x2="479.80" y2="238.20" stroke="#555" stroke-width="0.9"/>
<line x1="495.00" y1="235.00" x2="495.00" y2="238.20" stroke="#555" stroke-width="0.9"/>
<line x1="510.20" y1="235.00" x2="510.20" y2="238.20" stroke="#555" stroke-width="0.9"/>
<line x1="525.40" y1="235.00" x2="525.40" y2="238.20" stroke="#555" stroke-width="0.9"/>
<line x1="540.60" y1="235.00" x2="540.60" y2="238.20" stroke="#555" stroke-width="0.9"/>
<line x1="555.80" y1="235.00" x2="555.80" y2="238.20" stroke="#555" stroke-width="0.9"/>
<line x1="571.00" y1="235.00" x2="571.00" y2="238.20" stroke="#555" stroke-width="0.9"/>
<line x1="586.20" y1="235.00" x2="586.20" y2="238.20" stroke="#555" stroke-width="0.9"/>
<line x1="601.40" y1="235.00" x2="601.40" y2="238.20" stroke="#555" stroke-width="0.9"/>
<line x1="616.60" y1="235.00" x2="616.60" y2="238.20" stroke="#555" stroke-width="0.9"/>
<line x1="631.80" y1="235.00" x2="631.80" y2="238.20" stroke="#555" stroke-width="0.9"/>
<line x1="647.00" y1="235.00" x2="647.00" y2="238.20" stroke="#555" stroke-width="0.9"/>
<line x1="662.20" y1="235.00" x2="662.20" y2="238.20" stroke="#555" stroke-width="0.9"/>
<line x1="677.40" y1="235.00" x2="677.40" y2="238.20" stroke="#555" stroke-width="0.9"/>
<clipPath id="cp4"><rect x="381.60" y="131.40" width="400.00" height="64.10"/></clipPath>
<g clip-path="url(#cp4)">
<rect x="383.70" y="196.51" width="3.80" height="3.99" fill="#777777" stroke="#3d3d3d" stroke-width="0.5"/>
<rect x="389.70" y="196.99" width="3.80" height="3.51" fill="#d9d9d9" stroke="#4d4d4d" stroke-width="0.5"/>
<rect x="398.90" y="198.54" width="3.80" height="1.96" fill="#777777" stroke="#3d3d3d" stroke-width="0.5"/>
<rect x="404.90" y="198.62" width="3.80" height="1.88" fill="#d9d9d9" stroke="#4d4d4d" stroke-width="0.5"/>
<rect x="414.10" y="197.47" width="3.80" height="3.03" fill="#777777" stroke="#3d3d3d" stroke-width="0.5"/>
<rect x="420.10" y="197.84" width="3.80" height="2.66" fill="#d9d9d9" stroke="#4d4d4d" stroke-width="0.5"/>
<rect x="429.30" y="192.14" width="3.80" height="8.36" fill="#777777" stroke="#3d3d3d" stroke-width="0.5"/>
<rect x="435.30" y="192.33" width="3.80" height="8.17" fill="#d9d9d9" stroke="#4d4d4d" stroke-width="0.5"/>
<rect x="444.50" y="198.39" width="3.80" height="2.11" fill="#777777" stroke="#3d3d3d" stroke-width="0.5"/>
<rect x="450.50" y="198.62" width="3.80" height="1.88" fill="#d9d9d9" stroke="#4d4d4d" stroke-width="0.5"/>
<rect x="459.70" y="198.17" width="3.80" height="2.33" fill="#777777" stroke="#3d3d3d" stroke-width="0.5"/>
<rect x="465.70" y="198.25" width="3.80" height="2.25" fill="#d9d9d9" stroke="#4d4d4d" stroke-width="0.5"/>
<rect x="474.90" y="180.30" width="3.80" height="20.20" fill="#777777" stroke="#3d3d3d" stroke-width="0.5"/>
<rect x="480.90" y="177.34" width="3.80" height="23.16" fill="#d9d9d9" stroke="#4d4d4d" stroke-width="0.5"/>
<rect x="490.10" y="194.21" width="3.80" height="6.29" fill="#777777" stroke="#3d3d3d" stroke-width="0.5"/>
<rect x="496.10" y="193.06" width="3.80" height="7.44" fill="#d9d9d9" stroke="#4d4d4d" stroke-width="0.5"/>
<rect x="505.30" y="164.76" width="3.80" height="35.74" fill="#777777" stroke="#3d3d3d" stroke-width="0.5"/>
<rect x="511.30" y="164.76" width="3.80" height="35.74" fill="#d9d9d9" stroke="#4d4d4d" stroke-width="0.5"/>
<rect x="520.50" y="198.32" width="3.80" height="2.18" fill="#777777" stroke="#3d3d3d" stroke-width="0.5"/>
<rect x="526.50" y="198.41" width="3.80" height="2.09" fill="#d9d9d9" stroke="#4d4d4d" stroke-width="0.5"/>
<rect x="535.70" y="177.12" width="3.80" height="23.38" fill="#777777" stroke="#3d3d3d" stroke-width="0.5"/>
<rect x="541.70" y="178.19" width="3.80" height="22.31" fill="#d9d9d9" stroke="#4d4d4d" stroke-width="0.5"/>
<rect x="550.90" y="198.69" width="3.80" height="1.81" fill="#777777" stroke="#3d3d3d" stroke-width="0.5"/>
<rect x="556.90" y="198.69" width="3.80" height="1.81" fill="#d9d9d9" stroke="#4d4d4d" stroke-width="0.5"/>
<rect x="566.10" y="193.25" width="3.80" height="7.25" fill="#777777" stroke="#3d3d3d" stroke-width="0.5"/>
<rect x="572.10" y="193.25" width="3.80" height="7.25" fill="#d9d9d9" stroke="#4d4d4d" stroke-width="0.5"/>
<rect x="581.30" y="198.50" width="3.80" height="2.00" fill="#777777" stroke="#3d3d3d" stroke-width="0.5"/>
<rect x="587.30" y="198.50" width="3.80" height="2.00" fill="#d9d9d9" stroke="#4d4d4d" stroke-width="0.5"/>
<rect x="596.50" y="198.71" width="3.80" height="1.79" fill="#777777" stroke="#3d3d3d" stroke-width="0.5"/>
<rect x="602.50" y="198.71" width="3.80" height="1.79" fill="#d9d9d9" stroke="#4d4d4d" stroke-width="0.5"/>
<rect x="611.70" y="198.17" width="3.80" height="2.33" fill="#777777" stroke="#3d3d3d" stroke-width="0.5"/>
<rect x="617.70" y="198.02" width="3.80" height="2.48" fill="#d9d9d9" stroke="#4d4d4d" stroke-width="0.5"/>
<rect x="626.90" y="198.69" width="3.80" height="1.81" fill="#777777" stroke="#3d3d3d" stroke-width="0.5"/>
<rect x="632.90" y="198.69" width="3.80" height="1.81" fill="#d9d9d9" stroke="#4d4d4d" stroke-width="0.5"/>
<rect x="642.10" y="198.71" width="3.80" height="1.79" fill="#777777" stroke="#3d3d3d" stroke-width="0.5"/>
<rect x="648.10" y="198.71" width="3.80" height="1.79" fill="#d9d9d9" stroke="#4d4d4d" stroke-width="0.5"/>
<rect x="657.30" y="193.25" width="3.80" height="7.25" fill="#777777" stroke="#3d3d3d" stroke-width="0.5"/>
<rect x="663.30" y="193.25" width="3.80" height="7.25" fill="#d9d9d9" stroke="#4d4d4d" stroke-width="0.5"/>
<rect x="672.50" y="197.93" width="3.80" height="2.57" fill="#777777" stroke="#3d3d3d" stroke-width="0.5"/>
<rect x="678.50" y="198.02" width="3.80" height="2.48" fill="#d9d9d9" stroke="#4d4d4d" stroke-width="0.5"/>
<line x1="431.20" y1="188.44" x2="431.20" y2="195.84" stroke="#2a2a2a" stroke-width="0.6"/>
<line x1="430.30" y1="188.44" x2="432.10" y2="188.44" stroke="#2a2a2a" stroke-width="0.6"/>
<line x1="430.30" y1="195.84" x2="432.10" y2="195.84" stroke="#2a2a2a" stroke-width="0.6"/>
<circle cx="431.20" cy="187.81" r="1.15" fill="#111"/>
<circle cx="430.40" cy="188.81" r="1.15" fill="#111"/>
<circle cx="432.00" cy="190.29" r="1.15" fill="#111"/>
<line x1="437.20" y1="191.77" x2="437.20" y2="192.88" stroke="#2a2a2a" stroke-width="0.6"/>
<line x1="436.30" y1="191.77" x2="438.10" y2="191.77" stroke="#2a2a2a" stroke-width="0.6"/>
<line x1="436.30" y1="192.88" x2="438.10" y2="192.88" stroke="#2a2a2a" stroke-width="0.6"/>
<rect x="436.10" y="191.41" width="2.20" height="2.20" fill="#111"/>
<rect x="435.30" y="191.78" width="2.20" height="2.20" fill="#111"/>
<line x1="476.80" y1="177.34" x2="476.80" y2="183.26" stroke="#2a2a2a" stroke-width="0.6"/>
<line x1="475.90" y1="177.34" x2="477.70" y2="177.34" stroke="#2a2a2a" stroke-width="0.6"/>
<line x1="475.90" y1="183.26" x2="477.70" y2="183.26" stroke="#2a2a2a" stroke-width="0.6"/>
<circle cx="476.80" cy="176.71" r="1.15" fill="#111"/>
<circle cx="476.00" cy="178.08" r="1.15" fill="#111"/>
<circle cx="477.60" cy="179.56" r="1.15" fill="#111"/>
<circle cx="476.40" cy="181.04" r="1.15" fill="#111"/>
<circle cx="477.30" cy="182.52" r="1.15" fill="#111"/>
<line x1="482.80" y1="175.12" x2="482.80" y2="179.56" stroke="#2a2a2a" stroke-width="0.6"/>
<line x1="481.90" y1="175.12" x2="483.70" y2="175.12" stroke="#2a2a2a" stroke-width="0.6"/>
<line x1="481.90" y1="179.56" x2="483.70" y2="179.56" stroke="#2a2a2a" stroke-width="0.6"/>
<rect x="481.70" y="173.39" width="2.20" height="2.20" fill="#111"/>
<rect x="480.90" y="174.76" width="2.20" height="2.20" fill="#111"/>
<rect x="482.50" y="176.98" width="2.20" height="2.20" fill="#111"/>
<line x1="492.00" y1="188.81" x2="492.00" y2="198.80" stroke="#2a2a2a" stroke-width="0.6"/>
<line x1="491.10" y1="188.81" x2="492.90" y2="188.81" stroke="#2a2a2a" stroke-width="0.6"/>
<line x1="491.10" y1="198.80" x2="492.90" y2="198.80" stroke="#2a2a2a" stroke-width="0.6"/>
<circle cx="492.00" cy="188.88" r="1.15" fill="#111"/>
<circle cx="491.20" cy="190.29" r="1.15" fill="#111"/>
<circle cx="492.80" cy="193.62" r="1.15" fill="#111"/>
<line x1="498.00" y1="192.51" x2="498.00" y2="193.62" stroke="#2a2a2a" stroke-width="0.6"/>
<line x1="497.10" y1="192.51" x2="498.90" y2="192.51" stroke="#2a2a2a" stroke-width="0.6"/>
<line x1="497.10" y1="193.62" x2="498.90" y2="193.62" stroke="#2a2a2a" stroke-width="0.6"/>
<rect x="496.90" y="191.78" width="2.20" height="2.20" fill="#111"/>
<rect x="496.10" y="192.15" width="2.20" height="2.20" fill="#111"/>
<line x1="507.20" y1="163.28" x2="507.20" y2="166.24" stroke="#2a2a2a" stroke-width="0.6"/>
<line x1="506.30" y1="163.28" x2="508.10" y2="163.28" stroke="#2a2a2a" stroke-width="0.6"/>
<line x1="506.30" y1="166.24" x2="508.10" y2="166.24" stroke="#2a2a2a" stroke-width="0.6"/>
<circle cx="507.20" cy="162.91" r="1.15" fill="#111"/>
<circle cx="506.40" cy="164.02" r="1.15" fill="#111"/>
<circle cx="508.00" cy="164.76" r="1.15" fill="#111"/>
<line x1="513.20" y1="162.91" x2="513.20" y2="166.61" stroke="#2a2a2a" stroke-width="0.6"/>
<line x1="512.30" y1="162.91" x2="514.10" y2="162.91" stroke="#2a2a2a" stroke-width="0.6"/>
<line x1="512.30" y1="166.61" x2="514.10" y2="166.61" stroke="#2a2a2a" stroke-width="0.6"/>
<rect x="512.10" y="161.81" width="2.20" height="2.20" fill="#111"/>
<rect x="511.30" y="162.55" width="2.20" height="2.20" fill="#111"/>
<rect x="512.90" y="163.66" width="2.20" height="2.20" fill="#111"/>
<line x1="537.60" y1="176.60" x2="537.60" y2="177.64" stroke="#2a2a2a" stroke-width="0.6"/>
<line x1="536.70" y1="176.60" x2="538.50" y2="176.60" stroke="#2a2a2a" stroke-width="0.6"/>
<line x1="536.70" y1="177.64" x2="538.50" y2="177.64" stroke="#2a2a2a" stroke-width="0.6"/>
<circle cx="537.60" cy="176.60" r="1.15" fill="#111"/>
<circle cx="536.80" cy="177.34" r="1.15" fill="#111"/>
<circle cx="538.40" cy="178.45" r="1.15" fill="#111"/>
<line x1="543.60" y1="176.97" x2="543.60" y2="179.41" stroke="#2a2a2a" stroke-width="0.6"/>
<line x1="542.70" y1="176.97" x2="544.50" y2="176.97" stroke="#2a2a2a" stroke-width="0.6"/>
<line x1="542.70" y1="179.41" x2="544.50" y2="179.41" stroke="#2a2a2a" stroke-width="0.6"/>
<rect x="542.50" y="175.87" width="2.20" height="2.20" fill="#111"/>
<rect x="541.70" y="176.61" width="2.20" height="2.20" fill="#111"/>
<rect x="543.30" y="177.72" width="2.20" height="2.20" fill="#111"/>
<line x1="568.00" y1="192.51" x2="568.00" y2="193.99" stroke="#2a2a2a" stroke-width="0.6"/>
<line x1="567.10" y1="192.51" x2="568.90" y2="192.51" stroke="#2a2a2a" stroke-width="0.6"/>
<line x1="567.10" y1="193.99" x2="568.90" y2="193.99" stroke="#2a2a2a" stroke-width="0.6"/>
<circle cx="568.00" cy="192.51" r="1.15" fill="#111"/>
<circle cx="567.20" cy="192.88" r="1.15" fill="#111"/>
<circle cx="568.80" cy="193.62" r="1.15" fill="#111"/>
<line x1="574.00" y1="192.51" x2="574.00" y2="193.99" stroke="#2a2a2a" stroke-width="0.6"/>
<line x1="573.10" y1="192.51" x2="574.90" y2="192.51" stroke="#2a2a2a" stroke-width="0.6"/>
<line x1="573.10" y1="193.99" x2="574.90" y2="193.99" stroke="#2a2a2a" stroke-width="0.6"/>
<rect x="572.90" y="191.41" width="2.20" height="2.20" fill="#111"/>
<rect x="572.10" y="191.78" width="2.20" height="2.20" fill="#111"/>
<rect x="573.70" y="192.52" width="2.20" height="2.20" fill="#111"/>
<line x1="659.20" y1="192.51" x2="659.20" y2="193.99" stroke="#2a2a2a" stroke-width="0.6"/>
<line x1="658.30" y1="192.51" x2="660.10" y2="192.51" stroke="#2a2a2a" stroke-width="0.6"/>
<line x1="658.30" y1="193.99" x2="660.10" y2="193.99" stroke="#2a2a2a" stroke-width="0.6"/>
<circle cx="659.20" cy="192.51" r="1.15" fill="#111"/>
<circle cx="658.40" cy="192.88" r="1.15" fill="#111"/>
<circle cx="660.00" cy="193.25" r="1.15" fill="#111"/>
<line x1="665.20" y1="192.51" x2="665.20" y2="193.99" stroke="#2a2a2a" stroke-width="0.6"/>
<line x1="664.30" y1="192.51" x2="666.10" y2="192.51" stroke="#2a2a2a" stroke-width="0.6"/>
<line x1="664.30" y1="193.99" x2="666.10" y2="193.99" stroke="#2a2a2a" stroke-width="0.6"/>
<rect x="664.10" y="191.41" width="2.20" height="2.20" fill="#111"/>
<rect x="663.30" y="191.78" width="2.20" height="2.20" fill="#111"/>
<rect x="664.90" y="192.15" width="2.20" height="2.20" fill="#111"/>
</g>
<clipPath id="cp5"><rect x="381.60" y="200.80" width="400.00" height="34.20"/></clipPath>
<g clip-path="url(#cp5)">
<rect x="383.70" y="209.12" width="3.80" height="25.88" fill="#777777" stroke="#3d3d3d" stroke-width="0.5"/>
<rect x="389.70" y="214.54" width="3.80" height="20.46" fill="#d9d9d9" stroke="#4d4d4d" stroke-width="0.5"/>
<rect x="398.90" y="232.08" width="3.80" height="2.92" fill="#777777" stroke="#3d3d3d" stroke-width="0.5"/>
<rect x="404.90" y="232.91" width="3.80" height="2.09" fill="#d9d9d9" stroke="#4d4d4d" stroke-width="0.5"/>
<rect x="414.10" y="219.97" width="3.80" height="15.03" fill="#777777" stroke="#3d3d3d" stroke-width="0.5"/>
<rect x="420.10" y="224.15" width="3.80" height="10.85" fill="#d9d9d9" stroke="#4d4d4d" stroke-width="0.5"/>
<rect x="429.30" y="159.85" width="3.80" height="75.15" fill="#777777" stroke="#3d3d3d" stroke-width="0.5"/>
<rect x="435.30" y="161.94" width="3.80" height="73.06" fill="#d9d9d9" stroke="#4d4d4d" stroke-width="0.5"/>
<rect x="444.50" y="230.41" width="3.80" height="4.59" fill="#777777" stroke="#3d3d3d" stroke-width="0.5"/>
<rect x="450.50" y="232.91" width="3.80" height="2.09" fill="#d9d9d9" stroke="#4d4d4d" stroke-width="0.5"/>
<rect x="459.70" y="227.90" width="3.80" height="7.10" fill="#777777" stroke="#3d3d3d" stroke-width="0.5"/>
<rect x="465.70" y="228.74" width="3.80" height="6.26" fill="#d9d9d9" stroke="#4d4d4d" stroke-width="0.5"/>
<rect x="474.90" y="26.25" width="3.80" height="208.75" fill="#777777" stroke="#3d3d3d" stroke-width="0.5"/>
<rect x="480.90" y="-7.15" width="3.80" height="242.15" fill="#d9d9d9" stroke="#4d4d4d" stroke-width="0.5"/>
<rect x="490.10" y="183.23" width="3.80" height="51.77" fill="#777777" stroke="#3d3d3d" stroke-width="0.5"/>
<rect x="496.10" y="170.29" width="3.80" height="64.71" fill="#d9d9d9" stroke="#4d4d4d" stroke-width="0.5"/>
<rect x="505.30" y="-149.10" width="3.80" height="384.10" fill="#777777" stroke="#3d3d3d" stroke-width="0.5"/>
<rect x="511.30" y="-149.10" width="3.80" height="384.10" fill="#d9d9d9" stroke="#4d4d4d" stroke-width="0.5"/>
<rect x="520.50" y="229.57" width="3.80" height="5.43" fill="#777777" stroke="#3d3d3d" stroke-width="0.5"/>
<rect x="526.50" y="230.62" width="3.80" height="4.38" fill="#d9d9d9" stroke="#4d4d4d" stroke-width="0.5"/>
<rect x="535.70" y="-9.66" width="3.80" height="244.66" fill="#777777" stroke="#3d3d3d" stroke-width="0.5"/>
<rect x="541.70" y="2.45" width="3.80" height="232.55" fill="#d9d9d9" stroke="#4d4d4d" stroke-width="0.5"/>
<rect x="550.90" y="233.75" width="3.80" height="1.25" fill="#777777" stroke="#3d3d3d" stroke-width="0.5"/>
<rect x="556.90" y="233.75" width="3.80" height="1.25" fill="#d9d9d9" stroke="#4d4d4d" stroke-width="0.5"/>
<rect x="566.10" y="172.38" width="3.80" height="62.62" fill="#777777" stroke="#3d3d3d" stroke-width="0.5"/>
<rect x="572.10" y="172.38" width="3.80" height="62.62" fill="#d9d9d9" stroke="#4d4d4d" stroke-width="0.5"/>
<rect x="581.30" y="231.66" width="3.80" height="3.34" fill="#777777" stroke="#3d3d3d" stroke-width="0.5"/>
<rect x="587.30" y="231.66" width="3.80" height="3.34" fill="#d9d9d9" stroke="#4d4d4d" stroke-width="0.5"/>
<rect x="596.50" y="233.96" width="3.80" height="1.04" fill="#777777" stroke="#3d3d3d" stroke-width="0.5"/>
<rect x="602.50" y="233.96" width="3.80" height="1.04" fill="#d9d9d9" stroke="#4d4d4d" stroke-width="0.5"/>
<rect x="611.70" y="227.90" width="3.80" height="7.10" fill="#777777" stroke="#3d3d3d" stroke-width="0.5"/>
<rect x="617.70" y="226.23" width="3.80" height="8.77" fill="#d9d9d9" stroke="#4d4d4d" stroke-width="0.5"/>
<rect x="626.90" y="233.75" width="3.80" height="1.25" fill="#777777" stroke="#3d3d3d" stroke-width="0.5"/>
<rect x="632.90" y="233.75" width="3.80" height="1.25" fill="#d9d9d9" stroke="#4d4d4d" stroke-width="0.5"/>
<rect x="642.10" y="233.96" width="3.80" height="1.04" fill="#777777" stroke="#3d3d3d" stroke-width="0.5"/>
<rect x="648.10" y="233.96" width="3.80" height="1.04" fill="#d9d9d9" stroke="#4d4d4d" stroke-width="0.5"/>
<rect x="657.30" y="172.38" width="3.80" height="62.62" fill="#777777" stroke="#3d3d3d" stroke-width="0.5"/>
<rect x="663.30" y="172.38" width="3.80" height="62.62" fill="#d9d9d9" stroke="#4d4d4d" stroke-width="0.5"/>
<rect x="672.50" y="225.19" width="3.80" height="9.81" fill="#777777" stroke="#3d3d3d" stroke-width="0.5"/>
<rect x="678.50" y="226.23" width="3.80" height="8.77" fill="#d9d9d9" stroke="#4d4d4d" stroke-width="0.5"/>
</g>
<clipPath id="cp6"><rect x="381.60" y="200.80" width="400.00" height="34.20"/></clipPath>
<g clip-path="url(#cp6)">
<line x1="385.60" y1="202.85" x2="385.60" y2="215.38" stroke="#2a2a2a" stroke-width="0.6"/>
<line x1="384.70" y1="202.85" x2="386.50" y2="202.85" stroke="#2a2a2a" stroke-width="0.6"/>
<line x1="384.70" y1="215.38" x2="386.50" y2="215.38" stroke="#2a2a2a" stroke-width="0.6"/>
<circle cx="385.60" cy="202.85" r="1.15" fill="#111"/>
<circle cx="384.80" cy="207.44" r="1.15" fill="#111"/>
<circle cx="386.40" cy="214.12" r="1.15" fill="#111"/>
<circle cx="385.20" cy="222.89" r="1.15" fill="#111"/>
<line x1="391.60" y1="207.03" x2="391.60" y2="222.06" stroke="#2a2a2a" stroke-width="0.6"/>
<line x1="390.70" y1="207.03" x2="392.50" y2="207.03" stroke="#2a2a2a" stroke-width="0.6"/>
<line x1="390.70" y1="222.06" x2="392.50" y2="222.06" stroke="#2a2a2a" stroke-width="0.6"/>
<rect x="390.50" y="205.93" width="2.20" height="2.20" fill="#111"/>
<rect x="389.70" y="214.28" width="2.20" height="2.20" fill="#111"/>
<rect x="391.30" y="218.87" width="2.20" height="2.20" fill="#111"/>
<line x1="400.80" y1="231.24" x2="400.80" y2="232.91" stroke="#2a2a2a" stroke-width="0.6"/>
<line x1="399.90" y1="231.24" x2="401.70" y2="231.24" stroke="#2a2a2a" stroke-width="0.6"/>
<line x1="399.90" y1="232.91" x2="401.70" y2="232.91" stroke="#2a2a2a" stroke-width="0.6"/>
<circle cx="400.80" cy="231.24" r="1.15" fill="#111"/>
<circle cx="400.00" cy="232.50" r="1.15" fill="#111"/>
<circle cx="401.60" cy="232.91" r="1.15" fill="#111"/>
<line x1="406.80" y1="232.50" x2="406.80" y2="233.33" stroke="#2a2a2a" stroke-width="0.6"/>
<line x1="405.90" y1="232.50" x2="407.70" y2="232.50" stroke="#2a2a2a" stroke-width="0.6"/>
<line x1="405.90" y1="233.33" x2="407.70" y2="233.33" stroke="#2a2a2a" stroke-width="0.6"/>
<rect x="405.70" y="231.40" width="2.20" height="2.20" fill="#111"/>
<rect x="404.90" y="232.23" width="2.20" height="2.20" fill="#111"/>
<line x1="416.00" y1="211.20" x2="416.00" y2="228.74" stroke="#2a2a2a" stroke-width="0.6"/>
<line x1="415.10" y1="211.20" x2="416.90" y2="211.20" stroke="#2a2a2a" stroke-width="0.6"/>
<line x1="415.10" y1="228.74" x2="416.90" y2="228.74" stroke="#2a2a2a" stroke-width="0.6"/>
<circle cx="416.00" cy="211.20" r="1.15" fill="#111"/>
<circle cx="415.20" cy="219.97" r="1.15" fill="#111"/>
<circle cx="416.80" cy="222.47" r="1.15" fill="#111"/>
<circle cx="415.60" cy="223.31" r="1.15" fill="#111"/>
<line x1="422.00" y1="220.81" x2="422.00" y2="227.48" stroke="#2a2a2a" stroke-width="0.6"/>
<line x1="421.10" y1="220.81" x2="422.90" y2="220.81" stroke="#2a2a2a" stroke-width="0.6"/>
<line x1="421.10" y1="227.48" x2="422.90" y2="227.48" stroke="#2a2a2a" stroke-width="0.6"/>
<rect x="420.90" y="220.12" width="2.20" height="2.20" fill="#111"/>
<rect x="420.10" y="222.21" width="2.20" height="2.20" fill="#111"/>
<rect x="421.70" y="224.30" width="2.20" height="2.20" fill="#111"/>
<rect x="436.90" y="216.78" width="2.20" height="2.20" fill="#111"/>
<line x1="446.40" y1="227.48" x2="446.40" y2="233.33" stroke="#2a2a2a" stroke-width="0.6"/>
<line x1="445.50" y1="227.48" x2="447.30" y2="227.48" stroke="#2a2a2a" stroke-width="0.6"/>
<line x1="445.50" y1="233.33" x2="447.30" y2="233.33" stroke="#2a2a2a" stroke-width="0.6"/>
<circle cx="446.40" cy="227.48" r="1.15" fill="#111"/>
<circle cx="445.60" cy="229.57" r="1.15" fill="#111"/>
<circle cx="447.20" cy="230.82" r="1.15" fill="#111"/>
<line x1="452.40" y1="232.08" x2="452.40" y2="233.75" stroke="#2a2a2a" stroke-width="0.6"/>
<line x1="451.50" y1="232.08" x2="453.30" y2="232.08" stroke="#2a2a2a" stroke-width="0.6"/>
<line x1="451.50" y1="233.75" x2="453.30" y2="233.75" stroke="#2a2a2a" stroke-width="0.6"/>
<rect x="451.30" y="230.98" width="2.20" height="2.20" fill="#111"/>
<rect x="450.50" y="231.81" width="2.20" height="2.20" fill="#111"/>
<line x1="461.60" y1="224.15" x2="461.60" y2="231.66" stroke="#2a2a2a" stroke-width="0.6"/>
<line x1="460.70" y1="224.15" x2="462.50" y2="224.15" stroke="#2a2a2a" stroke-width="0.6"/>
<line x1="460.70" y1="231.66" x2="462.50" y2="231.66" stroke="#2a2a2a" stroke-width="0.6"/>
<circle cx="461.60" cy="224.15" r="1.15" fill="#111"/>
<circle cx="460.80" cy="226.65" r="1.15" fill="#111"/>
<circle cx="462.40" cy="228.32" r="1.15" fill="#111"/>
<line x1="467.60" y1="224.98" x2="467.60" y2="232.50" stroke="#2a2a2a" stroke-width="0.6"/>
<line x1="466.70" y1="224.98" x2="468.50" y2="224.98" stroke="#2a2a2a" stroke-width="0.6"/>
<line x1="466.70" y1="232.50" x2="468.50" y2="232.50" stroke="#2a2a2a" stroke-width="0.6"/>
<rect x="466.50" y="223.05" width="2.20" height="2.20" fill="#111"/>
<rect x="465.70" y="226.38" width="2.20" height="2.20" fill="#111"/>
<rect x="467.30" y="229.31" width="2.20" height="2.20" fill="#111"/>
<rect x="497.70" y="216.37" width="2.20" height="2.20" fill="#111"/>
<line x1="522.40" y1="225.40" x2="522.40" y2="233.75" stroke="#2a2a2a" stroke-width="0.6"/>
<line x1="521.50" y1="225.40" x2="523.30" y2="225.40" stroke="#2a2a2a" stroke-width="0.6"/>
<line x1="521.50" y1="233.75" x2="523.30" y2="233.75" stroke="#2a2a2a" stroke-width="0.6"/>
<circle cx="522.40" cy="224.56" r="1.15" fill="#111"/>
<circle cx="521.60" cy="228.32" r="1.15" fill="#111"/>
<circle cx="523.20" cy="229.57" r="1.15" fill="#111"/>
<line x1="528.40" y1="227.48" x2="528.40" y2="233.75" stroke="#2a2a2a" stroke-width="0.6"/>
<line x1="527.50" y1="227.48" x2="529.30" y2="227.48" stroke="#2a2a2a" stroke-width="0.6"/>
<line x1="527.50" y1="233.75" x2="529.30" y2="233.75" stroke="#2a2a2a" stroke-width="0.6"/>
<rect x="527.30" y="225.55" width="2.20" height="2.20" fill="#111"/>
<rect x="526.50" y="228.47" width="2.20" height="2.20" fill="#111"/>
<circle cx="552.80" cy="233.54" r="1.15" fill="#111"/>
<circle cx="552.00" cy="233.75" r="1.15" fill="#111"/>
<rect x="557.70" y="232.44" width="2.20" height="2.20" fill="#111"/>
<rect x="556.90" y="232.65" width="2.20" height="2.20" fill="#111"/>
<line x1="583.20" y1="230.20" x2="583.20" y2="233.12" stroke="#2a2a2a" stroke-width="0.6"/>
<line x1="582.30" y1="230.20" x2="584.10" y2="230.20" stroke="#2a2a2a" stroke-width="0.6"/>
<line x1="582.30" y1="233.12" x2="584.10" y2="233.12" stroke="#2a2a2a" stroke-width="0.6"/>
<circle cx="583.20" cy="230.20" r="1.15" fill="#111"/>
<circle cx="582.40" cy="231.66" r="1.15" fill="#111"/>
<circle cx="584.00" cy="232.50" r="1.15" fill="#111"/>
<line x1="589.20" y1="231.24" x2="589.20" y2="232.08" stroke="#2a2a2a" stroke-width="0.6"/>
<line x1="588.30" y1="231.24" x2="590.10" y2="231.24" stroke="#2a2a2a" stroke-width="0.6"/>
<line x1="588.30" y1="232.08" x2="590.10" y2="232.08" stroke="#2a2a2a" stroke-width="0.6"/>
<rect x="588.10" y="230.14" width="2.20" height="2.20" fill="#111"/>
<rect x="587.30" y="230.98" width="2.20" height="2.20" fill="#111"/>
<circle cx="598.40" cy="233.75" r="1.15" fill="#111"/>
<circle cx="597.60" cy="233.96" r="1.15" fill="#111"/>
<rect x="603.30" y="232.65" width="2.20" height="2.20" fill="#111"/>
<rect x="602.50" y="232.86" width="2.20" height="2.20" fill="#111"/>
<line x1="613.60" y1="224.15" x2="613.60" y2="231.66" stroke="#2a2a2a" stroke-width="0.6"/>
<line x1="612.70" y1="224.15" x2="614.50" y2="224.15" stroke="#2a2a2a" stroke-width="0.6"/>
<line x1="612.70" y1="231.66" x2="614.50" y2="231.66" stroke="#2a2a2a" stroke-width="0.6"/>
<circle cx="613.60" cy="222.47" r="1.15" fill="#111"/>
<circle cx="612.80" cy="227.90" r="1.15" fill="#111"/>
<circle cx="614.40" cy="229.16" r="1.15" fill="#111"/>
<line x1="619.60" y1="222.47" x2="619.60" y2="229.99" stroke="#2a2a2a" stroke-width="0.6"/>
<line x1="618.70" y1="222.47" x2="620.50" y2="222.47" stroke="#2a2a2a" stroke-width="0.6"/>
<line x1="618.70" y1="229.99" x2="620.50" y2="229.99" stroke="#2a2a2a" stroke-width="0.6"/>
<rect x="618.50" y="220.96" width="2.20" height="2.20" fill="#111"/>
<rect x="617.70" y="222.21" width="2.20" height="2.20" fill="#111"/>
<rect x="619.30" y="226.38" width="2.20" height="2.20" fill="#111"/>
<circle cx="628.80" cy="233.54" r="1.15" fill="#111"/>
<circle cx="628.00" cy="233.75" r="1.15" fill="#111"/>
<rect x="633.70" y="232.44" width="2.20" height="2.20" fill="#111"/>
<rect x="632.90" y="232.65" width="2.20" height="2.20" fill="#111"/>
<circle cx="644.00" cy="233.75" r="1.15" fill="#111"/>
<circle cx="643.20" cy="233.96" r="1.15" fill="#111"/>
<rect x="648.90" y="232.65" width="2.20" height="2.20" fill="#111"/>
<rect x="648.10" y="232.86" width="2.20" height="2.20" fill="#111"/>
<line x1="674.40" y1="218.72" x2="674.40" y2="231.66" stroke="#2a2a2a" stroke-width="0.6"/>
<line x1="673.50" y1="218.72" x2="675.30" y2="218.72" stroke="#2a2a2a" stroke-width="0.6"/>
<line x1="673.50" y1="231.66" x2="675.30" y2="231.66" stroke="#2a2a2a" stroke-width="0.6"/>
<circle cx="674.40" cy="215.79" r="1.15" fill="#111"/>
<circle cx="673.60" cy="224.98" r="1.15" fill="#111"/>
<circle cx="675.20" cy="227.07" r="1.15" fill="#111"/>
<line x1="680.40" y1="220.81" x2="680.40" y2="231.66" stroke="#2a2a2a" stroke-width="0.6"/>
<line x1="679.50" y1="220.81" x2="681.30" y2="220.81" stroke="#2a2a2a" stroke-width="0.6"/>
<line x1="679.50" y1="231.66" x2="681.30" y2="231.66" stroke="#2a2a2a" stroke-width="0.6"/>
<rect x="679.30" y="219.29" width="2.20" height="2.20" fill="#111"/>
<rect x="678.50" y="220.96" width="2.20" height="2.20" fill="#111"/>
<rect x="680.10" y="224.72" width="2.20" height="2.20" fill="#111"/>
</g>
<line x1="384.50" y1="160.60" x2="525.60" y2="160.60" stroke="#858585" stroke-width="1.2"/>
<text x="449.40" y="159.30" font-size="9" text-anchor="middle" fill="#333" textLength="11.6" lengthAdjust="spacingAndGlyphs">TIL</text>
<line x1="535.30" y1="160.60" x2="682.50" y2="160.60" stroke="#858585" stroke-width="1.2"/>
<text x="610.80" y="159.30" font-size="9" text-anchor="middle" fill="#333" textLength="15.8" lengthAdjust="spacingAndGlyphs">DLN</text>
<text x="0" y="0" font-size="7.6" text-anchor="end" fill="#333" transform="translate(393.60 243.00) rotate(-45) scale(0.96 1)">CD103</text>
<text x="0" y="0" font-size="7.6" text-anchor="end" fill="#333" transform="translate(408.80 243.00) rotate(-45) scale(0.96 1)">CTLA-4</text>
<text x="0" y="0" font-size="7.6" text-anchor="end" fill="#333" transform="translate(424.00 243.00) rotate(-45) scale(0.96 1)">Eomes</text>
<text x="0" y="0" font-size="7.6" text-anchor="end" fill="#333" transform="translate(439.20 243.00) rotate(-45) scale(0.96 1)">PD-1</text>
<text x="0" y="0" font-size="7.6" text-anchor="end" fill="#333" transform="translate(454.40 243.00) rotate(-45) scale(0.96 1)">KLRG1</text>
<text x="0" y="0" font-size="7.6" text-anchor="end" fill="#333" transform="translate(469.60 243.00) rotate(-45) scale(0.96 1)">Helios</text>
<text x="0" y="0" font-size="7.6" text-anchor="end" fill="#333" transform="translate(484.80 243.00) rotate(-45) scale(0.96 1)">T-bet</text>
<text x="0" y="0" font-size="7.6" text-anchor="end" fill="#333" transform="translate(500.00 243.00) rotate(-45) scale(0.96 1)">GITR</text>
<text x="0" y="0" font-size="7.6" text-anchor="end" fill="#333" transform="translate(515.20 243.00) rotate(-45) scale(0.96 1)">CD69</text>
<text x="0" y="0" font-size="7.6" text-anchor="end" fill="#333" transform="translate(530.40 243.00) rotate(-45) scale(0.96 1)">Ki-67</text>
<text x="0" y="0" font-size="7.6" text-anchor="end" fill="#333" transform="translate(545.60 243.00) rotate(-45) scale(0.96 1)">CD103</text>
<text x="0" y="0" font-size="7.6" text-anchor="end" fill="#333" transform="translate(560.80 243.00) rotate(-45) scale(0.96 1)">CTLA-4</text>
<text x="0" y="0" font-size="7.6" text-anchor="end" fill="#333" transform="translate(576.00 243.00) rotate(-45) scale(0.96 1)">Eomes</text>
<text x="0" y="0" font-size="7.6" text-anchor="end" fill="#333" transform="translate(591.20 243.00) rotate(-45) scale(0.96 1)">PD-1</text>
<text x="0" y="0" font-size="7.6" text-anchor="end" fill="#333" transform="translate(606.40 243.00) rotate(-45) scale(0.96 1)">KLRG1</text>
<text x="0" y="0" font-size="7.6" text-anchor="end" fill="#333" transform="translate(621.60 243.00) rotate(-45) scale(0.96 1)">Helios</text>
<text x="0" y="0" font-size="7.6" text-anchor="end" fill="#333" transform="translate(636.80 243.00) rotate(-45) scale(0.96 1)">T-bet</text>
<text x="0" y="0" font-size="7.6" text-anchor="end" fill="#333" transform="translate(652.00 243.00) rotate(-45) scale(0.96 1)">GITR</text>
<text x="0" y="0" font-size="7.6" text-anchor="end" fill="#333" transform="translate(667.20 243.00) rotate(-45) scale(0.96 1)">CD69</text>
<text x="0" y="0" font-size="7.6" text-anchor="end" fill="#333" transform="translate(682.40 243.00) rotate(-45) scale(0.96 1)">Ki-67</text>
<text x="0" y="0" font-size="9" text-anchor="middle" fill="#333" transform="translate(365.30 197.60) rotate(-90) scale(0.96 1)">% of CD8<tspan dy="-3.6" font-size="6">+</tspan></text>
<line x1="381.60" y1="195.60" x2="386.00" y2="195.60" stroke="#555" stroke-width="0.9"/>
<line x1="41.20" y1="278.00" x2="41.20" y2="311.40" stroke="#555" stroke-width="0.9"/>
<line x1="41.20" y1="315.90" x2="41.20" y2="349.85" stroke="#555" stroke-width="0.9"/>
<line x1="41.20" y1="349.40" x2="342.00" y2="349.40" stroke="#555" stroke-width="0.9"/>
<line x1="39.00" y1="310.90" x2="41.20" y2="310.90" stroke="#555" stroke-width="0.9"/>
<text x="37.90" y="314.10" font-size="8" text-anchor="end" fill="#333">20</text>
<line x1="39.00" y1="302.67" x2="41.20" y2="302.67" stroke="#555" stroke-width="0.9"/>
<text x="37.90" y="305.87" font-size="8" text-anchor="end" fill="#333">40</text>
<line x1="39.00" y1="294.45" x2="41.20" y2="294.45" stroke="#555" stroke-width="0.9"/>
<text x="37.90" y="297.65" font-size="8" text-anchor="end" fill="#333">60</text>
<line x1="39.00" y1="286.23" x2="41.20" y2="286.23" stroke="#555" stroke-width="0.9"/>
<text x="37.90" y="289.43" font-size="8" text-anchor="end" fill="#333">80</text>
<line x1="39.00" y1="278.00" x2="41.20" y2="278.00" stroke="#555" stroke-width="0.9"/>
<text x="37.90" y="281.20" font-size="8" text-anchor="end" fill="#333">100</text>
<line x1="39.00" y1="349.40" x2="41.20" y2="349.40" stroke="#555" stroke-width="0.9"/>
<text x="37.90" y="352.60" font-size="8" text-anchor="end" fill="#333">0</text>
<line x1="39.00" y1="340.13" x2="41.20" y2="340.13" stroke="#555" stroke-width="0.9"/>
<text x="37.90" y="343.33" font-size="8" text-anchor="end" fill="#333">5</text>
<line x1="39.00" y1="330.87" x2="41.20" y2="330.87" stroke="#555" stroke-width="0.9"/>
<text x="37.90" y="334.07" font-size="8" text-anchor="end" fill="#333">10</text>
<line x1="39.00" y1="321.60" x2="41.20" y2="321.60" stroke="#555" stroke-width="0.9"/>
<text x="37.90" y="324.80" font-size="8" text-anchor="end" fill="#333">15</text>
<line x1="48.30" y1="349.40" x2="48.30" y2="352.60" stroke="#555" stroke-width="0.9"/>
<line x1="63.27" y1="349.40" x2="63.27" y2="352.60" stroke="#555" stroke-width="0.9"/>
<line x1="78.24" y1="349.40" x2="78.24" y2="352.60" stroke="#555" stroke-width="0.9"/>
<line x1="93.21" y1="349.40" x2="93.21" y2="352.60" stroke="#555" stroke-width="0.9"/>
<line x1="108.18" y1="349.40" x2="108.18" y2="352.60" stroke="#555" stroke-width="0.9"/>
<line x1="123.15" y1="349.40" x2="123.15" y2="352.60" stroke="#555" stroke-width="0.9"/>
<line x1="138.12" y1="349.40" x2="138.12" y2="352.60" stroke="#555" stroke-width="0.9"/>
<line x1="153.09" y1="349.40" x2="153.09" y2="352.60" stroke="#555" stroke-width="0.9"/>
<line x1="168.06" y1="349.40" x2="168.06" y2="352.60" stroke="#555" stroke-width="0.9"/>
<line x1="183.03" y1="349.40" x2="183.03" y2="352.60" stroke="#555" stroke-width="0.9"/>
<line x1="198.00" y1="349.40" x2="198.00" y2="352.60" stroke="#555" stroke-width="0.9"/>
<line x1="212.97" y1="349.40" x2="212.97" y2="352.60" stroke="#555" stroke-width="0.9"/>
<line x1="227.94" y1="349.40" x2="227.94" y2="352.60" stroke="#555" stroke-width="0.9"/>
<line x1="242.91" y1="349.40" x2="242.91" y2="352.60" stroke="#555" stroke-width="0.9"/>
<line x1="257.88" y1="349.40" x2="257.88" y2="352.60" stroke="#555" stroke-width="0.9"/>
<line x1="272.85" y1="349.40" x2="272.85" y2="352.60" stroke="#555" stroke-width="0.9"/>
<line x1="287.82" y1="349.40" x2="287.82" y2="352.60" stroke="#555" stroke-width="0.9"/>
<line x1="302.79" y1="349.40" x2="302.79" y2="352.60" stroke="#555" stroke-width="0.9"/>
<line x1="317.76" y1="349.40" x2="317.76" y2="352.60" stroke="#555" stroke-width="0.9"/>
<line x1="332.73" y1="349.40" x2="332.73" y2="352.60" stroke="#555" stroke-width="0.9"/>
<clipPath id="cp7"><rect x="41.70" y="250.90" width="400.00" height="60.50"/></clipPath>
<g clip-path="url(#cp7)">
<rect x="43.30" y="297.21" width="3.90" height="19.19" fill="#777777" stroke="#3d3d3d" stroke-width="0.5"/>
<rect x="49.40" y="298.69" width="3.80" height="17.71" fill="#d9d9d9" stroke="#4d4d4d" stroke-width="0.5"/>
<rect x="58.27" y="303.00" width="3.90" height="13.40" fill="#777777" stroke="#3d3d3d" stroke-width="0.5"/>
<rect x="64.37" y="301.89" width="3.80" height="14.51" fill="#d9d9d9" stroke="#4d4d4d" stroke-width="0.5"/>
<rect x="88.21" y="306.21" width="3.90" height="10.19" fill="#777777" stroke="#3d3d3d" stroke-width="0.5"/>
<rect x="94.31" y="304.53" width="3.80" height="11.87" fill="#d9d9d9" stroke="#4d4d4d" stroke-width="0.5"/>
<rect x="103.18" y="298.11" width="3.90" height="18.29" fill="#777777" stroke="#3d3d3d" stroke-width="0.5"/>
<rect x="109.28" y="300.21" width="3.80" height="16.19" fill="#d9d9d9" stroke="#4d4d4d" stroke-width="0.5"/>
<rect x="118.15" y="305.31" width="3.90" height="11.09" fill="#777777" stroke="#3d3d3d" stroke-width="0.5"/>
<rect x="124.25" y="305.14" width="3.80" height="11.26" fill="#d9d9d9" stroke="#4d4d4d" stroke-width="0.5"/>
<rect x="139.22" y="315.96" width="3.80" height="0.44" fill="#d9d9d9" stroke="#4d4d4d" stroke-width="0.5"/>
<rect x="148.09" y="283.76" width="3.90" height="32.64" fill="#777777" stroke="#3d3d3d" stroke-width="0.5"/>
<rect x="154.19" y="281.58" width="3.80" height="34.82" fill="#d9d9d9" stroke="#4d4d4d" stroke-width="0.5"/>
<rect x="163.06" y="281.58" width="3.90" height="34.82" fill="#777777" stroke="#3d3d3d" stroke-width="0.5"/>
<rect x="169.16" y="282.28" width="3.80" height="34.12" fill="#d9d9d9" stroke="#4d4d4d" stroke-width="0.5"/>
<rect x="178.03" y="315.63" width="3.90" height="0.77" fill="#777777" stroke="#3d3d3d" stroke-width="0.5"/>
<rect x="184.13" y="316.08" width="3.80" height="0.32" fill="#d9d9d9" stroke="#4d4d4d" stroke-width="0.5"/>
<rect x="193.00" y="301.93" width="3.90" height="14.47" fill="#777777" stroke="#3d3d3d" stroke-width="0.5"/>
<rect x="199.10" y="303.00" width="3.80" height="13.40" fill="#d9d9d9" stroke="#4d4d4d" stroke-width="0.5"/>
<rect x="207.97" y="301.93" width="3.90" height="14.47" fill="#777777" stroke="#3d3d3d" stroke-width="0.5"/>
<rect x="214.07" y="303.70" width="3.80" height="12.70" fill="#d9d9d9" stroke="#4d4d4d" stroke-width="0.5"/>
<rect x="237.91" y="313.57" width="3.90" height="2.83" fill="#777777" stroke="#3d3d3d" stroke-width="0.5"/>
<rect x="244.01" y="313.57" width="3.80" height="2.83" fill="#d9d9d9" stroke="#4d4d4d" stroke-width="0.5"/>
<rect x="252.88" y="315.83" width="3.90" height="0.56" fill="#777777" stroke="#3d3d3d" stroke-width="0.5"/>
<rect x="267.85" y="303.99" width="3.90" height="12.41" fill="#777777" stroke="#3d3d3d" stroke-width="0.5"/>
<rect x="273.95" y="302.51" width="3.80" height="13.89" fill="#d9d9d9" stroke="#4d4d4d" stroke-width="0.5"/>
<rect x="297.79" y="298.89" width="3.90" height="17.51" fill="#777777" stroke="#3d3d3d" stroke-width="0.5"/>
<rect x="303.89" y="300.37" width="3.80" height="16.03" fill="#d9d9d9" stroke="#4d4d4d" stroke-width="0.5"/>
<rect x="312.76" y="298.19" width="3.90" height="18.21" fill="#777777" stroke="#3d3d3d" stroke-width="0.5"/>
<rect x="318.86" y="297.62" width="3.80" height="18.78" fill="#d9d9d9" stroke="#4d4d4d" stroke-width="0.5"/>
<rect x="327.73" y="313.70" width="3.90" height="2.70" fill="#777777" stroke="#3d3d3d" stroke-width="0.5"/>
<rect x="333.83" y="313.70" width="3.80" height="2.70" fill="#d9d9d9" stroke="#4d4d4d" stroke-width="0.5"/>
<line x1="45.25" y1="291.98" x2="45.25" y2="302.43" stroke="#2a2a2a" stroke-width="0.6"/>
<line x1="44.35" y1="291.98" x2="46.15" y2="291.98" stroke="#2a2a2a" stroke-width="0.6"/>
<line x1="44.35" y1="302.43" x2="46.15" y2="302.43" stroke="#2a2a2a" stroke-width="0.6"/>
<circle cx="45.25" cy="292.39" r="1.15" fill="#111"/>
<circle cx="44.45" cy="296.51" r="1.15" fill="#111"/>
<circle cx="46.05" cy="298.56" r="1.15" fill="#111"/>
<line x1="51.30" y1="294.04" x2="51.30" y2="303.33" stroke="#2a2a2a" stroke-width="0.6"/>
<line x1="50.40" y1="294.04" x2="52.20" y2="294.04" stroke="#2a2a2a" stroke-width="0.6"/>
<line x1="50.40" y1="303.33" x2="52.20" y2="303.33" stroke="#2a2a2a" stroke-width="0.6"/>
<rect x="50.20" y="292.94" width="2.20" height="2.20" fill="#111"/>
<rect x="49.40" y="294.17" width="2.20" height="2.20" fill="#111"/>
<rect x="51.00" y="299.52" width="2.20" height="2.20" fill="#111"/>
<rect x="49.80" y="300.75" width="2.20" height="2.20" fill="#111"/>
<line x1="60.22" y1="299.80" x2="60.22" y2="306.21" stroke="#2a2a2a" stroke-width="0.6"/>
<line x1="59.32" y1="299.80" x2="61.12" y2="299.80" stroke="#2a2a2a" stroke-width="0.6"/>
<line x1="59.32" y1="306.21" x2="61.12" y2="306.21" stroke="#2a2a2a" stroke-width="0.6"/>
<circle cx="60.22" cy="299.80" r="1.15" fill="#111"/>
<circle cx="59.42" cy="301.85" r="1.15" fill="#111"/>
<circle cx="61.02" cy="302.67" r="1.15" fill="#111"/>
<line x1="66.27" y1="301.03" x2="66.27" y2="302.76" stroke="#2a2a2a" stroke-width="0.6"/>
<line x1="65.37" y1="301.03" x2="67.17" y2="301.03" stroke="#2a2a2a" stroke-width="0.6"/>
<line x1="65.37" y1="302.76" x2="67.17" y2="302.76" stroke="#2a2a2a" stroke-width="0.6"/>
<rect x="65.17" y="300.34" width="2.20" height="2.20" fill="#111"/>
<rect x="64.37" y="301.16" width="2.20" height="2.20" fill="#111"/>
<line x1="90.16" y1="303.99" x2="90.16" y2="308.43" stroke="#2a2a2a" stroke-width="0.6"/>
<line x1="89.26" y1="303.99" x2="91.06" y2="303.99" stroke="#2a2a2a" stroke-width="0.6"/>
<line x1="89.26" y1="308.43" x2="91.06" y2="308.43" stroke="#2a2a2a" stroke-width="0.6"/>
<circle cx="90.16" cy="303.99" r="1.15" fill="#111"/>
<circle cx="89.36" cy="305.55" r="1.15" fill="#111"/>
<circle cx="90.96" cy="306.38" r="1.15" fill="#111"/>
<line x1="96.21" y1="301.03" x2="96.21" y2="308.02" stroke="#2a2a2a" stroke-width="0.6"/>
<line x1="95.31" y1="301.03" x2="97.11" y2="301.03" stroke="#2a2a2a" stroke-width="0.6"/>
<line x1="95.31" y1="308.02" x2="97.11" y2="308.02" stroke="#2a2a2a" stroke-width="0.6"/>
<rect x="95.11" y="299.81" width="2.20" height="2.20" fill="#111"/>
<rect x="94.31" y="301.57" width="2.20" height="2.20" fill="#111"/>
<rect x="95.91" y="302.81" width="2.20" height="2.20" fill="#111"/>
<rect x="94.71" y="305.28" width="2.20" height="2.20" fill="#111"/>
<line x1="105.13" y1="296.51" x2="105.13" y2="299.71" stroke="#2a2a2a" stroke-width="0.6"/>
<line x1="104.23" y1="296.51" x2="106.03" y2="296.51" stroke="#2a2a2a" stroke-width="0.6"/>
<line x1="104.23" y1="299.71" x2="106.03" y2="299.71" stroke="#2a2a2a" stroke-width="0.6"/>
<circle cx="105.13" cy="296.51" r="1.15" fill="#111"/>
<circle cx="104.33" cy="297.74" r="1.15" fill="#111"/>
<circle cx="105.93" cy="300.21" r="1.15" fill="#111"/>
<line x1="111.18" y1="295.48" x2="111.18" y2="304.94" stroke="#2a2a2a" stroke-width="0.6"/>
<line x1="110.28" y1="295.48" x2="112.08" y2="295.48" stroke="#2a2a2a" stroke-width="0.6"/>
<line x1="110.28" y1="304.94" x2="112.08" y2="304.94" stroke="#2a2a2a" stroke-width="0.6"/>
<rect x="110.08" y="294.38" width="2.20" height="2.20" fill="#111"/>
<rect x="109.28" y="296.64" width="2.20" height="2.20" fill="#111"/>
<rect x="110.88" y="299.11" width="2.20" height="2.20" fill="#111"/>
<rect x="109.68" y="304.86" width="2.20" height="2.20" fill="#111"/>
<line x1="120.10" y1="299.80" x2="120.10" y2="310.82" stroke="#2a2a2a" stroke-width="0.6"/>
<line x1="119.20" y1="299.80" x2="121.00" y2="299.80" stroke="#2a2a2a" stroke-width="0.6"/>
<line x1="119.20" y1="310.82" x2="121.00" y2="310.82" stroke="#2a2a2a" stroke-width="0.6"/>
<circle cx="120.10" cy="299.80" r="1.15" fill="#111"/>
<circle cx="119.30" cy="305.14" r="1.15" fill="#111"/>
<circle cx="120.90" cy="306.38" r="1.15" fill="#111"/>
<line x1="126.15" y1="295.27" x2="126.15" y2="315.01" stroke="#2a2a2a" stroke-width="0.6"/>
<line x1="125.25" y1="295.27" x2="127.05" y2="295.27" stroke="#2a2a2a" stroke-width="0.6"/>
<line x1="125.25" y1="315.01" x2="127.05" y2="315.01" stroke="#2a2a2a" stroke-width="0.6"/>
<rect x="125.05" y="294.17" width="2.20" height="2.20" fill="#111"/>
<rect x="124.25" y="300.75" width="2.20" height="2.20" fill="#111"/>
<rect x="125.85" y="302.40" width="2.20" height="2.20" fill="#111"/>
<rect x="124.65" y="304.45" width="2.20" height="2.20" fill="#111"/>
<rect x="125.55" y="308.98" width="2.20" height="2.20" fill="#111"/>
<line x1="150.04" y1="280.06" x2="150.04" y2="287.46" stroke="#2a2a2a" stroke-width="0.6"/>
<line x1="149.14" y1="280.06" x2="150.94" y2="280.06" stroke="#2a2a2a" stroke-width="0.6"/>
<line x1="149.14" y1="287.46" x2="150.94" y2="287.46" stroke="#2a2a2a" stroke-width="0.6"/>
<circle cx="150.04" cy="280.06" r="1.15" fill="#111"/>
<circle cx="149.24" cy="281.70" r="1.15" fill="#111"/>
<circle cx="150.84" cy="283.76" r="1.15" fill="#111"/>
<line x1="156.09" y1="279.23" x2="156.09" y2="283.92" stroke="#2a2a2a" stroke-width="0.6"/>
<line x1="155.19" y1="279.23" x2="156.99" y2="279.23" stroke="#2a2a2a" stroke-width="0.6"/>
<line x1="155.19" y1="283.92" x2="156.99" y2="283.92" stroke="#2a2a2a" stroke-width="0.6"/>
<rect x="154.99" y="278.13" width="2.20" height="2.20" fill="#111"/>
<rect x="154.19" y="279.78" width="2.20" height="2.20" fill="#111"/>
<rect x="155.79" y="282.66" width="2.20" height="2.20" fill="#111"/>
<line x1="165.01" y1="278.82" x2="165.01" y2="284.33" stroke="#2a2a2a" stroke-width="0.6"/>
<line x1="164.11" y1="278.82" x2="165.91" y2="278.82" stroke="#2a2a2a" stroke-width="0.6"/>
<line x1="164.11" y1="284.33" x2="165.91" y2="284.33" stroke="#2a2a2a" stroke-width="0.6"/>
<circle cx="165.01" cy="278.82" r="1.15" fill="#111"/>
<circle cx="164.21" cy="280.47" r="1.15" fill="#111"/>
<circle cx="165.81" cy="281.29" r="1.15" fill="#111"/>
<line x1="171.06" y1="278.82" x2="171.06" y2="285.73" stroke="#2a2a2a" stroke-width="0.6"/>
<line x1="170.16" y1="278.82" x2="171.96" y2="278.82" stroke="#2a2a2a" stroke-width="0.6"/>
<line x1="170.16" y1="285.73" x2="171.96" y2="285.73" stroke="#2a2a2a" stroke-width="0.6"/>
<rect x="169.96" y="277.72" width="2.20" height="2.20" fill="#111"/>
<rect x="169.16" y="279.37" width="2.20" height="2.20" fill="#111"/>
<rect x="170.76" y="281.83" width="2.20" height="2.20" fill="#111"/>
<line x1="194.95" y1="298.03" x2="194.95" y2="305.84" stroke="#2a2a2a" stroke-width="0.6"/>
<line x1="194.05" y1="298.03" x2="195.85" y2="298.03" stroke="#2a2a2a" stroke-width="0.6"/>
<line x1="194.05" y1="305.84" x2="195.85" y2="305.84" stroke="#2a2a2a" stroke-width="0.6"/>
<circle cx="194.95" cy="298.03" r="1.15" fill="#111"/>
<circle cx="194.15" cy="300.21" r="1.15" fill="#111"/>
<circle cx="195.75" cy="301.85" r="1.15" fill="#111"/>
<line x1="201.00" y1="298.56" x2="201.00" y2="307.45" stroke="#2a2a2a" stroke-width="0.6"/>
<line x1="200.10" y1="298.56" x2="201.90" y2="298.56" stroke="#2a2a2a" stroke-width="0.6"/>
<line x1="200.10" y1="307.45" x2="201.90" y2="307.45" stroke="#2a2a2a" stroke-width="0.6"/>
<rect x="199.90" y="297.46" width="2.20" height="2.20" fill="#111"/>
<rect x="199.10" y="299.52" width="2.20" height="2.20" fill="#111"/>
<rect x="200.70" y="300.75" width="2.20" height="2.20" fill="#111"/>
<line x1="209.92" y1="301.44" x2="209.92" y2="302.43" stroke="#2a2a2a" stroke-width="0.6"/>
<line x1="209.02" y1="301.44" x2="210.82" y2="301.44" stroke="#2a2a2a" stroke-width="0.6"/>
<line x1="209.02" y1="302.43" x2="210.82" y2="302.43" stroke="#2a2a2a" stroke-width="0.6"/>
<circle cx="209.92" cy="301.44" r="1.15" fill="#111"/>
<circle cx="209.12" cy="301.65" r="1.15" fill="#111"/>
<line x1="215.97" y1="300.62" x2="215.97" y2="306.79" stroke="#2a2a2a" stroke-width="0.6"/>
<line x1="215.07" y1="300.62" x2="216.87" y2="300.62" stroke="#2a2a2a" stroke-width="0.6"/>
<line x1="215.07" y1="306.79" x2="216.87" y2="306.79" stroke="#2a2a2a" stroke-width="0.6"/>
<rect x="214.87" y="299.52" width="2.20" height="2.20" fill="#111"/>
<rect x="214.07" y="301.57" width="2.20" height="2.20" fill="#111"/>
<rect x="215.67" y="302.81" width="2.20" height="2.20" fill="#111"/>
<line x1="269.80" y1="299.38" x2="269.80" y2="308.60" stroke="#2a2a2a" stroke-width="0.6"/>
<line x1="268.90" y1="299.38" x2="270.70" y2="299.38" stroke="#2a2a2a" stroke-width="0.6"/>
<line x1="268.90" y1="308.60" x2="270.70" y2="308.60" stroke="#2a2a2a" stroke-width="0.6"/>
<circle cx="269.80" cy="299.38" r="1.15" fill="#111"/>
<circle cx="269.00" cy="301.44" r="1.15" fill="#111"/>
<circle cx="270.60" cy="302.26" r="1.15" fill="#111"/>
<line x1="275.85" y1="299.38" x2="275.85" y2="305.64" stroke="#2a2a2a" stroke-width="0.6"/>
<line x1="274.95" y1="299.38" x2="276.75" y2="299.38" stroke="#2a2a2a" stroke-width="0.6"/>
<line x1="274.95" y1="305.64" x2="276.75" y2="305.64" stroke="#2a2a2a" stroke-width="0.6"/>
<rect x="274.75" y="298.28" width="2.20" height="2.20" fill="#111"/>
<rect x="273.95" y="299.93" width="2.20" height="2.20" fill="#111"/>
<rect x="275.55" y="300.75" width="2.20" height="2.20" fill="#111"/>
<line x1="299.74" y1="295.89" x2="299.74" y2="301.89" stroke="#2a2a2a" stroke-width="0.6"/>
<line x1="298.84" y1="295.89" x2="300.64" y2="295.89" stroke="#2a2a2a" stroke-width="0.6"/>
<line x1="298.84" y1="301.89" x2="300.64" y2="301.89" stroke="#2a2a2a" stroke-width="0.6"/>
<circle cx="299.74" cy="295.89" r="1.15" fill="#111"/>
<circle cx="298.94" cy="297.74" r="1.15" fill="#111"/>
<circle cx="300.54" cy="299.80" r="1.15" fill="#111"/>
<circle cx="299.34" cy="300.62" r="1.15" fill="#111"/>
<line x1="305.79" y1="297.74" x2="305.79" y2="303.00" stroke="#2a2a2a" stroke-width="0.6"/>
<line x1="304.89" y1="297.74" x2="306.69" y2="297.74" stroke="#2a2a2a" stroke-width="0.6"/>
<line x1="304.89" y1="303.00" x2="306.69" y2="303.00" stroke="#2a2a2a" stroke-width="0.6"/>
<rect x="304.69" y="296.64" width="2.20" height="2.20" fill="#111"/>
<rect x="303.89" y="297.87" width="2.20" height="2.20" fill="#111"/>
<rect x="305.49" y="299.11" width="2.20" height="2.20" fill="#111"/>
<line x1="314.71" y1="294.12" x2="314.71" y2="302.26" stroke="#2a2a2a" stroke-width="0.6"/>
<line x1="313.81" y1="294.12" x2="315.61" y2="294.12" stroke="#2a2a2a" stroke-width="0.6"/>
<line x1="313.81" y1="302.26" x2="315.61" y2="302.26" stroke="#2a2a2a" stroke-width="0.6"/>
<circle cx="314.71" cy="294.12" r="1.15" fill="#111"/>
<circle cx="313.91" cy="295.68" r="1.15" fill="#111"/>
<circle cx="315.51" cy="296.51" r="1.15" fill="#111"/>
<line x1="320.76" y1="294.86" x2="320.76" y2="300.37" stroke="#2a2a2a" stroke-width="0.6"/>
<line x1="319.86" y1="294.86" x2="321.66" y2="294.86" stroke="#2a2a2a" stroke-width="0.6"/>
<line x1="319.86" y1="300.37" x2="321.66" y2="300.37" stroke="#2a2a2a" stroke-width="0.6"/>
<rect x="319.66" y="293.76" width="2.20" height="2.20" fill="#111"/>
<rect x="318.86" y="294.58" width="2.20" height="2.20" fill="#111"/>
<rect x="320.46" y="295.41" width="2.20" height="2.20" fill="#111"/>
<line x1="329.68" y1="310.24" x2="329.68" y2="316.40" stroke="#2a2a2a" stroke-width="0.6"/>
<line x1="328.78" y1="310.24" x2="330.58" y2="310.24" stroke="#2a2a2a" stroke-width="0.6"/>
<line x1="328.78" y1="316.40" x2="330.58" y2="316.40" stroke="#2a2a2a" stroke-width="0.6"/>
<circle cx="329.68" cy="310.24" r="1.15" fill="#111"/>
<line x1="335.73" y1="310.37" x2="335.73" y2="316.40" stroke="#2a2a2a" stroke-width="0.6"/>
<line x1="334.83" y1="310.37" x2="336.63" y2="310.37" stroke="#2a2a2a" stroke-width="0.6"/>
<line x1="334.83" y1="316.40" x2="336.63" y2="316.40" stroke="#2a2a2a" stroke-width="0.6"/>
<rect x="334.63" y="309.27" width="2.20" height="2.20" fill="#111"/>
</g>
<clipPath id="cp8"><rect x="41.70" y="315.90" width="400.00" height="33.50"/></clipPath>
<g clip-path="url(#cp8)">
<rect x="43.30" y="250.62" width="3.90" height="98.78" fill="#777777" stroke="#3d3d3d" stroke-width="0.5"/>
<rect x="49.40" y="257.29" width="3.80" height="92.11" fill="#d9d9d9" stroke="#4d4d4d" stroke-width="0.5"/>
<rect x="58.27" y="276.75" width="3.90" height="72.65" fill="#777777" stroke="#3d3d3d" stroke-width="0.5"/>
<rect x="64.37" y="271.75" width="3.80" height="77.65" fill="#d9d9d9" stroke="#4d4d4d" stroke-width="0.5"/>
<rect x="73.24" y="348.47" width="3.90" height="0.93" fill="#777777" stroke="#3d3d3d" stroke-width="0.5"/>
<rect x="79.34" y="348.29" width="3.80" height="1.11" fill="#d9d9d9" stroke="#4d4d4d" stroke-width="0.5"/>
<rect x="88.21" y="291.21" width="3.90" height="58.19" fill="#777777" stroke="#3d3d3d" stroke-width="0.5"/>
<rect x="94.31" y="283.61" width="3.80" height="65.79" fill="#d9d9d9" stroke="#4d4d4d" stroke-width="0.5"/>
<rect x="103.18" y="254.69" width="3.90" height="94.71" fill="#777777" stroke="#3d3d3d" stroke-width="0.5"/>
<rect x="109.28" y="264.15" width="3.80" height="85.25" fill="#d9d9d9" stroke="#4d4d4d" stroke-width="0.5"/>
<rect x="118.15" y="287.13" width="3.90" height="62.27" fill="#777777" stroke="#3d3d3d" stroke-width="0.5"/>
<rect x="124.25" y="286.39" width="3.80" height="63.01" fill="#d9d9d9" stroke="#4d4d4d" stroke-width="0.5"/>
<rect x="133.12" y="340.87" width="3.90" height="8.53" fill="#777777" stroke="#3d3d3d" stroke-width="0.5"/>
<rect x="139.22" y="335.13" width="3.80" height="14.27" fill="#d9d9d9" stroke="#4d4d4d" stroke-width="0.5"/>
<rect x="148.09" y="190.01" width="3.90" height="159.39" fill="#777777" stroke="#3d3d3d" stroke-width="0.5"/>
<rect x="154.19" y="180.19" width="3.80" height="169.21" fill="#d9d9d9" stroke="#4d4d4d" stroke-width="0.5"/>
<rect x="163.06" y="180.19" width="3.90" height="169.21" fill="#777777" stroke="#3d3d3d" stroke-width="0.5"/>
<rect x="169.16" y="183.34" width="3.80" height="166.06" fill="#d9d9d9" stroke="#4d4d4d" stroke-width="0.5"/>
<rect x="178.03" y="333.65" width="3.90" height="15.75" fill="#777777" stroke="#3d3d3d" stroke-width="0.5"/>
<rect x="184.13" y="335.69" width="3.80" height="13.71" fill="#d9d9d9" stroke="#4d4d4d" stroke-width="0.5"/>
<rect x="193.00" y="271.93" width="3.90" height="77.47" fill="#777777" stroke="#3d3d3d" stroke-width="0.5"/>
<rect x="199.10" y="276.75" width="3.80" height="72.65" fill="#d9d9d9" stroke="#4d4d4d" stroke-width="0.5"/>
<rect x="207.97" y="271.93" width="3.90" height="77.47" fill="#777777" stroke="#3d3d3d" stroke-width="0.5"/>
<rect x="214.07" y="279.90" width="3.80" height="69.50" fill="#d9d9d9" stroke="#4d4d4d" stroke-width="0.5"/>
<rect x="222.94" y="348.29" width="3.90" height="1.11" fill="#777777" stroke="#3d3d3d" stroke-width="0.5"/>
<rect x="229.04" y="347.92" width="3.80" height="1.48" fill="#d9d9d9" stroke="#4d4d4d" stroke-width="0.5"/>
<rect x="237.91" y="324.38" width="3.90" height="25.02" fill="#777777" stroke="#3d3d3d" stroke-width="0.5"/>
<rect x="244.01" y="324.38" width="3.80" height="25.02" fill="#d9d9d9" stroke="#4d4d4d" stroke-width="0.5"/>
<rect x="252.88" y="334.57" width="3.90" height="14.83" fill="#777777" stroke="#3d3d3d" stroke-width="0.5"/>
<rect x="258.98" y="337.17" width="3.80" height="12.23" fill="#d9d9d9" stroke="#4d4d4d" stroke-width="0.5"/>
<rect x="267.85" y="281.20" width="3.90" height="68.20" fill="#777777" stroke="#3d3d3d" stroke-width="0.5"/>
<rect x="273.95" y="274.53" width="3.80" height="74.87" fill="#d9d9d9" stroke="#4d4d4d" stroke-width="0.5"/>
<rect x="282.82" y="347.92" width="3.90" height="1.48" fill="#777777" stroke="#3d3d3d" stroke-width="0.5"/>
<rect x="288.92" y="347.73" width="3.80" height="1.67" fill="#d9d9d9" stroke="#4d4d4d" stroke-width="0.5"/>
<rect x="297.79" y="258.22" width="3.90" height="91.18" fill="#777777" stroke="#3d3d3d" stroke-width="0.5"/>
<rect x="303.89" y="264.89" width="3.80" height="84.51" fill="#d9d9d9" stroke="#4d4d4d" stroke-width="0.5"/>
<rect x="312.76" y="255.07" width="3.90" height="94.33" fill="#777777" stroke="#3d3d3d" stroke-width="0.5"/>
<rect x="318.86" y="252.47" width="3.80" height="96.93" fill="#d9d9d9" stroke="#4d4d4d" stroke-width="0.5"/>
<rect x="327.73" y="324.94" width="3.90" height="24.46" fill="#777777" stroke="#3d3d3d" stroke-width="0.5"/>
<rect x="333.83" y="324.94" width="3.80" height="24.46" fill="#d9d9d9" stroke="#4d4d4d" stroke-width="0.5"/>
</g>
<clipPath id="cp9"><rect x="41.70" y="306.90" width="400.00" height="42.50"/></clipPath>
<g clip-path="url(#cp9)">
<line x1="75.19" y1="348.10" x2="75.19" y2="348.84" stroke="#2a2a2a" stroke-width="0.6"/>
<line x1="74.29" y1="348.10" x2="76.09" y2="348.10" stroke="#2a2a2a" stroke-width="0.6"/>
<line x1="74.29" y1="348.84" x2="76.09" y2="348.84" stroke="#2a2a2a" stroke-width="0.6"/>
<circle cx="75.19" cy="347.92" r="1.15" fill="#111"/>
<circle cx="74.39" cy="348.47" r="1.15" fill="#111"/>
<line x1="81.24" y1="347.55" x2="81.24" y2="349.03" stroke="#2a2a2a" stroke-width="0.6"/>
<line x1="80.34" y1="347.55" x2="82.14" y2="347.55" stroke="#2a2a2a" stroke-width="0.6"/>
<line x1="80.34" y1="349.03" x2="82.14" y2="349.03" stroke="#2a2a2a" stroke-width="0.6"/>
<rect x="80.14" y="346.08" width="2.20" height="2.20" fill="#111"/>
<rect x="79.34" y="347.00" width="2.20" height="2.20" fill="#111"/>
<rect x="125.55" y="307.53" width="2.20" height="2.20" fill="#111"/>
<line x1="135.07" y1="336.24" x2="135.07" y2="345.51" stroke="#2a2a2a" stroke-width="0.6"/>
<line x1="134.17" y1="336.24" x2="135.97" y2="336.24" stroke="#2a2a2a" stroke-width="0.6"/>
<line x1="134.17" y1="345.51" x2="135.97" y2="345.51" stroke="#2a2a2a" stroke-width="0.6"/>
<circle cx="135.07" cy="336.24" r="1.15" fill="#111"/>
<circle cx="134.27" cy="339.21" r="1.15" fill="#111"/>
<circle cx="135.87" cy="341.06" r="1.15" fill="#111"/>
<circle cx="134.67" cy="344.77" r="1.15" fill="#111"/>
<circle cx="135.57" cy="348.47" r="1.15" fill="#111"/>
<line x1="141.12" y1="328.46" x2="141.12" y2="341.80" stroke="#2a2a2a" stroke-width="0.6"/>
<line x1="140.22" y1="328.46" x2="142.02" y2="328.46" stroke="#2a2a2a" stroke-width="0.6"/>
<line x1="140.22" y1="341.80" x2="142.02" y2="341.80" stroke="#2a2a2a" stroke-width="0.6"/>
<rect x="140.02" y="327.36" width="2.20" height="2.20" fill="#111"/>
<rect x="139.22" y="329.77" width="2.20" height="2.20" fill="#111"/>
<rect x="140.82" y="335.33" width="2.20" height="2.20" fill="#111"/>
<rect x="139.62" y="338.11" width="2.20" height="2.20" fill="#111"/>
<rect x="140.52" y="342.74" width="2.20" height="2.20" fill="#111"/>
<line x1="179.98" y1="331.79" x2="179.98" y2="335.50" stroke="#2a2a2a" stroke-width="0.6"/>
<line x1="179.08" y1="331.79" x2="180.88" y2="331.79" stroke="#2a2a2a" stroke-width="0.6"/>
<line x1="179.08" y1="335.50" x2="180.88" y2="335.50" stroke="#2a2a2a" stroke-width="0.6"/>
<circle cx="179.98" cy="331.24" r="1.15" fill="#111"/>
<circle cx="179.18" cy="332.72" r="1.15" fill="#111"/>
<circle cx="180.78" cy="334.57" r="1.15" fill="#111"/>
<line x1="186.03" y1="328.64" x2="186.03" y2="342.73" stroke="#2a2a2a" stroke-width="0.6"/>
<line x1="185.13" y1="328.64" x2="186.93" y2="328.64" stroke="#2a2a2a" stroke-width="0.6"/>
<line x1="185.13" y1="342.73" x2="186.93" y2="342.73" stroke="#2a2a2a" stroke-width="0.6"/>
<rect x="184.93" y="327.54" width="2.20" height="2.20" fill="#111"/>
<rect x="184.13" y="331.62" width="2.20" height="2.20" fill="#111"/>
<rect x="185.73" y="335.33" width="2.20" height="2.20" fill="#111"/>
<rect x="184.53" y="338.11" width="2.20" height="2.20" fill="#111"/>
<line x1="224.89" y1="347.55" x2="224.89" y2="349.03" stroke="#2a2a2a" stroke-width="0.6"/>
<line x1="223.99" y1="347.55" x2="225.79" y2="347.55" stroke="#2a2a2a" stroke-width="0.6"/>
<line x1="223.99" y1="349.03" x2="225.79" y2="349.03" stroke="#2a2a2a" stroke-width="0.6"/>
<circle cx="224.89" cy="347.55" r="1.15" fill="#111"/>
<circle cx="224.09" cy="348.29" r="1.15" fill="#111"/>
<line x1="230.94" y1="347.18" x2="230.94" y2="348.66" stroke="#2a2a2a" stroke-width="0.6"/>
<line x1="230.04" y1="347.18" x2="231.84" y2="347.18" stroke="#2a2a2a" stroke-width="0.6"/>
<line x1="230.04" y1="348.66" x2="231.84" y2="348.66" stroke="#2a2a2a" stroke-width="0.6"/>
<rect x="229.84" y="346.08" width="2.20" height="2.20" fill="#111"/>
<rect x="229.04" y="346.82" width="2.20" height="2.20" fill="#111"/>
<line x1="239.86" y1="320.12" x2="239.86" y2="328.64" stroke="#2a2a2a" stroke-width="0.6"/>
<line x1="238.96" y1="320.12" x2="240.76" y2="320.12" stroke="#2a2a2a" stroke-width="0.6"/>
<line x1="238.96" y1="328.64" x2="240.76" y2="328.64" stroke="#2a2a2a" stroke-width="0.6"/>
<circle cx="239.86" cy="320.12" r="1.15" fill="#111"/>
<circle cx="239.06" cy="323.45" r="1.15" fill="#111"/>
<circle cx="240.66" cy="327.16" r="1.15" fill="#111"/>
<circle cx="239.46" cy="329.01" r="1.15" fill="#111"/>
<circle cx="240.36" cy="332.72" r="1.15" fill="#111"/>
<line x1="245.91" y1="317.89" x2="245.91" y2="330.87" stroke="#2a2a2a" stroke-width="0.6"/>
<line x1="245.01" y1="317.89" x2="246.81" y2="317.89" stroke="#2a2a2a" stroke-width="0.6"/>
<line x1="245.01" y1="330.87" x2="246.81" y2="330.87" stroke="#2a2a2a" stroke-width="0.6"/>
<rect x="244.81" y="316.79" width="2.20" height="2.20" fill="#111"/>
<rect x="244.01" y="320.50" width="2.20" height="2.20" fill="#111"/>
<rect x="245.61" y="326.06" width="2.20" height="2.20" fill="#111"/>
<rect x="244.41" y="331.62" width="2.20" height="2.20" fill="#111"/>
<line x1="254.83" y1="324.38" x2="254.83" y2="344.77" stroke="#2a2a2a" stroke-width="0.6"/>
<line x1="253.93" y1="324.38" x2="255.73" y2="324.38" stroke="#2a2a2a" stroke-width="0.6"/>
<line x1="253.93" y1="344.77" x2="255.73" y2="344.77" stroke="#2a2a2a" stroke-width="0.6"/>
<circle cx="254.83" cy="324.38" r="1.15" fill="#111"/>
<circle cx="254.03" cy="331.79" r="1.15" fill="#111"/>
<circle cx="255.63" cy="334.57" r="1.15" fill="#111"/>
<circle cx="254.43" cy="337.35" r="1.15" fill="#111"/>
<line x1="260.88" y1="329.38" x2="260.88" y2="344.95" stroke="#2a2a2a" stroke-width="0.6"/>
<line x1="259.98" y1="329.38" x2="261.78" y2="329.38" stroke="#2a2a2a" stroke-width="0.6"/>
<line x1="259.98" y1="344.95" x2="261.78" y2="344.95" stroke="#2a2a2a" stroke-width="0.6"/>
<rect x="259.78" y="328.28" width="2.20" height="2.20" fill="#111"/>
<rect x="258.98" y="333.47" width="2.20" height="2.20" fill="#111"/>
<rect x="260.58" y="337.18" width="2.20" height="2.20" fill="#111"/>
<rect x="259.38" y="339.96" width="2.20" height="2.20" fill="#111"/>
<line x1="284.77" y1="347.36" x2="284.77" y2="348.47" stroke="#2a2a2a" stroke-width="0.6"/>
<line x1="283.87" y1="347.36" x2="285.67" y2="347.36" stroke="#2a2a2a" stroke-width="0.6"/>
<line x1="283.87" y1="348.47" x2="285.67" y2="348.47" stroke="#2a2a2a" stroke-width="0.6"/>
<circle cx="284.77" cy="347.36" r="1.15" fill="#111"/>
<circle cx="283.97" cy="347.92" r="1.15" fill="#111"/>
<line x1="290.82" y1="347.18" x2="290.82" y2="348.29" stroke="#2a2a2a" stroke-width="0.6"/>
<line x1="289.92" y1="347.18" x2="291.72" y2="347.18" stroke="#2a2a2a" stroke-width="0.6"/>
<line x1="289.92" y1="348.29" x2="291.72" y2="348.29" stroke="#2a2a2a" stroke-width="0.6"/>
<rect x="289.72" y="346.08" width="2.20" height="2.20" fill="#111"/>
<rect x="288.92" y="346.63" width="2.20" height="2.20" fill="#111"/>
<line x1="329.68" y1="309.37" x2="329.68" y2="340.50" stroke="#2a2a2a" stroke-width="0.6"/>
<line x1="328.78" y1="309.37" x2="330.58" y2="309.37" stroke="#2a2a2a" stroke-width="0.6"/>
<line x1="328.78" y1="340.50" x2="330.58" y2="340.50" stroke="#2a2a2a" stroke-width="0.6"/>
<circle cx="329.68" cy="309.37" r="1.15" fill="#111"/>
<circle cx="328.88" cy="327.53" r="1.15" fill="#111"/>
<circle cx="330.48" cy="329.94" r="1.15" fill="#111"/>
<circle cx="329.28" cy="334.57" r="1.15" fill="#111"/>
<circle cx="330.18" cy="338.28" r="1.15" fill="#111"/>
<line x1="335.73" y1="309.92" x2="335.73" y2="339.95" stroke="#2a2a2a" stroke-width="0.6"/>
<line x1="334.83" y1="309.92" x2="336.63" y2="309.92" stroke="#2a2a2a" stroke-width="0.6"/>
<line x1="334.83" y1="339.95" x2="336.63" y2="339.95" stroke="#2a2a2a" stroke-width="0.6"/>
<rect x="334.63" y="308.82" width="2.20" height="2.20" fill="#111"/>
<rect x="333.83" y="326.06" width="2.20" height="2.20" fill="#111"/>
<rect x="335.43" y="334.40" width="2.20" height="2.20" fill="#111"/>
<rect x="334.23" y="341.81" width="2.20" height="2.20" fill="#111"/>
</g>
<line x1="44.40" y1="276.20" x2="187.40" y2="276.20" stroke="#858585" stroke-width="1.2"/>
<text x="116.00" y="274.90" font-size="9" text-anchor="middle" fill="#333" textLength="11.6" lengthAdjust="spacingAndGlyphs">TIL</text>
<line x1="193.60" y1="276.20" x2="342.20" y2="276.20" stroke="#858585" stroke-width="1.2"/>
<text x="267.80" y="274.90" font-size="9" text-anchor="middle" fill="#333" textLength="15.8" lengthAdjust="spacingAndGlyphs">DLN</text>
<text x="0" y="0" font-size="7.6" text-anchor="end" fill="#333" transform="translate(53.30 357.40) rotate(-45) scale(0.96 1)">CD103</text>
<text x="0" y="0" font-size="7.6" text-anchor="end" fill="#333" transform="translate(68.27 357.40) rotate(-45) scale(0.96 1)">CTLA-4</text>
<text x="0" y="0" font-size="7.6" text-anchor="end" fill="#333" transform="translate(83.24 357.40) rotate(-45) scale(0.96 1)">Eomes</text>
<text x="0" y="0" font-size="7.6" text-anchor="end" fill="#333" transform="translate(98.21 357.40) rotate(-45) scale(0.96 1)">PD-1</text>
<text x="0" y="0" font-size="7.6" text-anchor="end" fill="#333" transform="translate(113.18 357.40) rotate(-45) scale(0.96 1)">KLRG1</text>
<text x="0" y="0" font-size="7.6" text-anchor="end" fill="#333" transform="translate(128.15 357.40) rotate(-45) scale(0.96 1)">Helios</text>
<text x="0" y="0" font-size="7.6" text-anchor="end" fill="#333" transform="translate(143.12 357.40) rotate(-45) scale(0.96 1)">T-bet</text>
<text x="0" y="0" font-size="7.6" text-anchor="end" fill="#333" transform="translate(158.09 357.40) rotate(-45) scale(0.96 1)">GITR</text>
<text x="0" y="0" font-size="7.6" text-anchor="end" fill="#333" transform="translate(173.06 357.40) rotate(-45) scale(0.96 1)">CD69</text>
<text x="0" y="0" font-size="7.6" text-anchor="end" fill="#333" transform="translate(188.03 357.40) rotate(-45) scale(0.96 1)">Ki-67</text>
<text x="0" y="0" font-size="7.6" text-anchor="end" fill="#333" transform="translate(203.00 357.40) rotate(-45) scale(0.96 1)">CD103</text>
<text x="0" y="0" font-size="7.6" text-anchor="end" fill="#333" transform="translate(217.97 357.40) rotate(-45) scale(0.96 1)">CTLA-4</text>
<text x="0" y="0" font-size="7.6" text-anchor="end" fill="#333" transform="translate(232.94 357.40) rotate(-45) scale(0.96 1)">Eomes</text>
<text x="0" y="0" font-size="7.6" text-anchor="end" fill="#333" transform="translate(247.91 357.40) rotate(-45) scale(0.96 1)">PD-1</text>
<text x="0" y="0" font-size="7.6" text-anchor="end" fill="#333" transform="translate(262.88 357.40) rotate(-45) scale(0.96 1)">KLRG1</text>
<text x="0" y="0" font-size="7.6" text-anchor="end" fill="#333" transform="translate(277.85 357.40) rotate(-45) scale(0.96 1)">Helios</text>
<text x="0" y="0" font-size="7.6" text-anchor="end" fill="#333" transform="translate(292.82 357.40) rotate(-45) scale(0.96 1)">T-bet</text>
<text x="0" y="0" font-size="7.6" text-anchor="end" fill="#333" transform="translate(307.79 357.40) rotate(-45) scale(0.96 1)">GITR</text>
<text x="0" y="0" font-size="7.6" text-anchor="end" fill="#333" transform="translate(322.76 357.40) rotate(-45) scale(0.96 1)">CD69</text>
<text x="0" y="0" font-size="7.6" text-anchor="end" fill="#333" transform="translate(337.73 357.40) rotate(-45) scale(0.96 1)">Ki-67</text>
<text x="0" y="0" font-size="9" text-anchor="middle" fill="#333" transform="translate(23.40 314.90) rotate(-90) scale(0.96 1)">% of CD4<tspan dy="-3.6" font-size="6">+</tspan><tspan dy="3.6"> Foxp3</tspan><tspan dy="-3.6" font-size="6">+</tspan></text>
<line x1="381.70" y1="273.10" x2="381.70" y2="349.75" stroke="#555" stroke-width="0.9"/>
<line x1="381.70" y1="349.30" x2="559.00" y2="349.30" stroke="#555" stroke-width="0.9"/>
<line x1="379.50" y1="349.30" x2="381.70" y2="349.30" stroke="#555" stroke-width="0.9"/>
<text x="378.40" y="352.50" font-size="8" text-anchor="end" fill="#333">0</text>
<line x1="379.50" y1="323.90" x2="381.70" y2="323.90" stroke="#555" stroke-width="0.9"/>
<text x="378.40" y="327.10" font-size="8" text-anchor="end" fill="#333">0.5</text>
<line x1="379.50" y1="298.50" x2="381.70" y2="298.50" stroke="#555" stroke-width="0.9"/>
<text x="378.40" y="301.70" font-size="8" text-anchor="end" fill="#333">1.0</text>
<line x1="379.50" y1="273.10" x2="381.70" y2="273.10" stroke="#555" stroke-width="0.9"/>
<text x="378.40" y="276.30" font-size="8" text-anchor="end" fill="#333">1.5</text>
<text x="366.30" y="310.80" font-size="9" text-anchor="middle" fill="#333" transform="rotate(-90 366.30 310.80)">% of CD45<tspan dy="-3.6" font-size="6">+</tspan></text>
<rect x="385.70" y="327.96" width="5.90" height="21.34" fill="#777777" stroke="#3d3d3d" stroke-width="0.5"/>
<rect x="395.00" y="328.98" width="6.70" height="20.32" fill="#d9d9d9" stroke="#4d4d4d" stroke-width="0.5"/>
<rect x="411.55" y="344.73" width="5.90" height="4.57" fill="#777777" stroke="#3d3d3d" stroke-width="0.5"/>
<rect x="420.85" y="345.74" width="6.70" height="3.56" fill="#d9d9d9" stroke="#4d4d4d" stroke-width="0.5"/>
<rect x="437.40" y="343.71" width="5.90" height="5.59" fill="#777777" stroke="#3d3d3d" stroke-width="0.5"/>
<rect x="446.70" y="346.25" width="6.70" height="3.05" fill="#d9d9d9" stroke="#4d4d4d" stroke-width="0.5"/>
<rect x="463.25" y="333.04" width="5.90" height="16.26" fill="#777777" stroke="#3d3d3d" stroke-width="0.5"/>
<rect x="472.55" y="341.17" width="6.70" height="8.13" fill="#d9d9d9" stroke="#4d4d4d" stroke-width="0.5"/>
<rect x="489.10" y="347.78" width="5.90" height="1.52" fill="#777777" stroke="#3d3d3d" stroke-width="0.5"/>
<rect x="498.40" y="348.28" width="6.70" height="1.02" fill="#d9d9d9" stroke="#4d4d4d" stroke-width="0.5"/>
<rect x="514.95" y="339.65" width="5.90" height="9.65" fill="#777777" stroke="#3d3d3d" stroke-width="0.5"/>
<rect x="524.25" y="329.49" width="6.70" height="19.81" fill="#d9d9d9" stroke="#4d4d4d" stroke-width="0.5"/>
<rect x="540.80" y="347.27" width="5.90" height="2.03" fill="#777777" stroke="#3d3d3d" stroke-width="0.5"/>
<rect x="550.10" y="347.78" width="6.70" height="1.52" fill="#d9d9d9" stroke="#4d4d4d" stroke-width="0.5"/>
<line x1="388.65" y1="314.76" x2="388.65" y2="341.17" stroke="#2a2a2a" stroke-width="0.6"/>
<line x1="387.35" y1="314.76" x2="389.95" y2="314.76" stroke="#2a2a2a" stroke-width="0.6"/>
<line x1="387.35" y1="341.17" x2="389.95" y2="341.17" stroke="#2a2a2a" stroke-width="0.6"/>
<circle cx="388.65" cy="311.20" r="1.45" fill="#111"/>
<circle cx="387.85" cy="323.90" r="1.45" fill="#111"/>
<circle cx="389.45" cy="334.57" r="1.45" fill="#111"/>
<circle cx="388.25" cy="342.70" r="1.45" fill="#111"/>
<line x1="398.35" y1="317.30" x2="398.35" y2="340.66" stroke="#2a2a2a" stroke-width="0.6"/>
<line x1="397.05" y1="317.30" x2="399.65" y2="317.30" stroke="#2a2a2a" stroke-width="0.6"/>
<line x1="397.05" y1="340.66" x2="399.65" y2="340.66" stroke="#2a2a2a" stroke-width="0.6"/>
<rect x="397.00" y="311.37" width="2.70" height="2.70" fill="#111"/>
<rect x="396.20" y="327.63" width="2.70" height="2.70" fill="#111"/>
<rect x="397.80" y="331.69" width="2.70" height="2.70" fill="#111"/>
<rect x="396.60" y="339.82" width="2.70" height="2.70" fill="#111"/>
<line x1="414.50" y1="343.71" x2="414.50" y2="345.74" stroke="#2a2a2a" stroke-width="0.6"/>
<line x1="413.20" y1="343.71" x2="415.80" y2="343.71" stroke="#2a2a2a" stroke-width="0.6"/>
<line x1="413.20" y1="345.74" x2="415.80" y2="345.74" stroke="#2a2a2a" stroke-width="0.6"/>
<circle cx="414.50" cy="344.22" r="1.45" fill="#111"/>
<circle cx="413.70" cy="345.74" r="1.45" fill="#111"/>
<circle cx="415.30" cy="346.76" r="1.45" fill="#111"/>
<circle cx="414.10" cy="347.78" r="1.45" fill="#111"/>
<line x1="424.20" y1="344.73" x2="424.20" y2="346.76" stroke="#2a2a2a" stroke-width="0.6"/>
<line x1="422.90" y1="344.73" x2="425.50" y2="344.73" stroke="#2a2a2a" stroke-width="0.6"/>
<line x1="422.90" y1="346.76" x2="425.50" y2="346.76" stroke="#2a2a2a" stroke-width="0.6"/>
<rect x="422.85" y="343.38" width="2.70" height="2.70" fill="#111"/>
<rect x="422.05" y="344.90" width="2.70" height="2.70" fill="#111"/>
<rect x="423.65" y="345.92" width="2.70" height="2.70" fill="#111"/>
<line x1="440.35" y1="343.20" x2="440.35" y2="344.22" stroke="#2a2a2a" stroke-width="0.6"/>
<line x1="439.05" y1="343.20" x2="441.65" y2="343.20" stroke="#2a2a2a" stroke-width="0.6"/>
<line x1="439.05" y1="344.22" x2="441.65" y2="344.22" stroke="#2a2a2a" stroke-width="0.6"/>
<circle cx="440.35" cy="343.20" r="1.45" fill="#111"/>
<circle cx="439.55" cy="344.22" r="1.45" fill="#111"/>
<circle cx="441.15" cy="344.73" r="1.45" fill="#111"/>
<line x1="450.05" y1="344.22" x2="450.05" y2="348.28" stroke="#2a2a2a" stroke-width="0.6"/>
<line x1="448.75" y1="344.22" x2="451.35" y2="344.22" stroke="#2a2a2a" stroke-width="0.6"/>
<line x1="448.75" y1="348.28" x2="451.35" y2="348.28" stroke="#2a2a2a" stroke-width="0.6"/>
<rect x="448.70" y="342.87" width="2.70" height="2.70" fill="#111"/>
<rect x="447.90" y="345.41" width="2.70" height="2.70" fill="#111"/>
<rect x="449.50" y="345.92" width="2.70" height="2.70" fill="#111"/>
<line x1="466.20" y1="321.87" x2="466.20" y2="344.22" stroke="#2a2a2a" stroke-width="0.6"/>
<line x1="464.90" y1="321.87" x2="467.50" y2="321.87" stroke="#2a2a2a" stroke-width="0.6"/>
<line x1="464.90" y1="344.22" x2="467.50" y2="344.22" stroke="#2a2a2a" stroke-width="0.6"/>
<circle cx="466.20" cy="317.80" r="1.45" fill="#111"/>
<circle cx="465.40" cy="332.54" r="1.45" fill="#111"/>
<circle cx="467.00" cy="335.08" r="1.45" fill="#111"/>
<circle cx="465.80" cy="339.14" r="1.45" fill="#111"/>
<line x1="475.90" y1="332.54" x2="475.90" y2="349.30" stroke="#2a2a2a" stroke-width="0.6"/>
<line x1="474.60" y1="332.54" x2="477.20" y2="332.54" stroke="#2a2a2a" stroke-width="0.6"/>
<line x1="474.60" y1="349.30" x2="477.20" y2="349.30" stroke="#2a2a2a" stroke-width="0.6"/>
<rect x="474.55" y="327.12" width="2.70" height="2.70" fill="#111"/>
<rect x="473.75" y="341.85" width="2.70" height="2.70" fill="#111"/>
<rect x="475.35" y="342.87" width="2.70" height="2.70" fill="#111"/>
<rect x="474.15" y="345.41" width="2.70" height="2.70" fill="#111"/>
<circle cx="492.05" cy="346.76" r="1.45" fill="#111"/>
<circle cx="491.25" cy="347.78" r="1.45" fill="#111"/>
<circle cx="492.85" cy="348.28" r="1.45" fill="#111"/>
<rect x="500.40" y="346.43" width="2.70" height="2.70" fill="#111"/>
<rect x="499.60" y="346.93" width="2.70" height="2.70" fill="#111"/>
<rect x="501.20" y="346.93" width="2.70" height="2.70" fill="#111"/>
<line x1="517.90" y1="337.11" x2="517.90" y2="342.19" stroke="#2a2a2a" stroke-width="0.6"/>
<line x1="516.60" y1="337.11" x2="519.20" y2="337.11" stroke="#2a2a2a" stroke-width="0.6"/>
<line x1="516.60" y1="342.19" x2="519.20" y2="342.19" stroke="#2a2a2a" stroke-width="0.6"/>
<circle cx="517.90" cy="334.06" r="1.45" fill="#111"/>
<circle cx="517.10" cy="339.14" r="1.45" fill="#111"/>
<circle cx="518.70" cy="340.16" r="1.45" fill="#111"/>
<line x1="527.60" y1="299.52" x2="527.60" y2="349.30" stroke="#2a2a2a" stroke-width="0.6"/>
<line x1="526.30" y1="299.52" x2="528.90" y2="299.52" stroke="#2a2a2a" stroke-width="0.6"/>
<line x1="526.30" y1="349.30" x2="528.90" y2="349.30" stroke="#2a2a2a" stroke-width="0.6"/>
<rect x="526.25" y="283.43" width="2.70" height="2.70" fill="#111"/>
<rect x="525.45" y="341.35" width="2.70" height="2.70" fill="#111"/>
<rect x="527.05" y="342.87" width="2.70" height="2.70" fill="#111"/>
<rect x="525.85" y="343.89" width="2.70" height="2.70" fill="#111"/>
<circle cx="543.75" cy="346.25" r="1.45" fill="#111"/>
<circle cx="542.95" cy="347.27" r="1.45" fill="#111"/>
<circle cx="544.55" cy="347.78" r="1.45" fill="#111"/>
<rect x="552.10" y="345.41" width="2.70" height="2.70" fill="#111"/>
<rect x="551.30" y="346.43" width="2.70" height="2.70" fill="#111"/>
<rect x="552.90" y="346.93" width="2.70" height="2.70" fill="#111"/>
<line x1="393.30" y1="349.30" x2="393.30" y2="351.30" stroke="#555" stroke-width="0.9"/>
<text x="393.30" y="361.20" font-size="7.6" text-anchor="middle" fill="#333">NK</text>
<line x1="419.15" y1="349.30" x2="419.15" y2="351.30" stroke="#555" stroke-width="0.9"/>
<text x="419.15" y="361.20" font-size="7.6" text-anchor="middle" fill="#333">NKT</text>
<line x1="445.00" y1="349.30" x2="445.00" y2="351.30" stroke="#555" stroke-width="0.9"/>
<text x="445.00" y="361.20" font-size="7.6" text-anchor="middle" fill="#333">cDC</text>
<line x1="470.85" y1="349.30" x2="470.85" y2="351.30" stroke="#555" stroke-width="0.9"/>
<text x="470.85" y="361.20" font-size="7.6" text-anchor="middle" fill="#333">Neu</text>
<line x1="496.70" y1="349.30" x2="496.70" y2="351.30" stroke="#555" stroke-width="0.9"/>
<text x="496.70" y="361.20" font-size="7.6" text-anchor="middle" fill="#333">Eos</text>
<line x1="522.55" y1="349.30" x2="522.55" y2="351.30" stroke="#555" stroke-width="0.9"/>
<text x="522.55" y="361.20" font-size="7.6" text-anchor="middle" fill="#333">B cells</text>
<line x1="548.40" y1="349.30" x2="548.40" y2="351.30" stroke="#555" stroke-width="0.9"/>
<text x="548.40" y="361.20" font-size="7.6" text-anchor="middle" fill="#333">Baso</text>
</svg></body></html>
